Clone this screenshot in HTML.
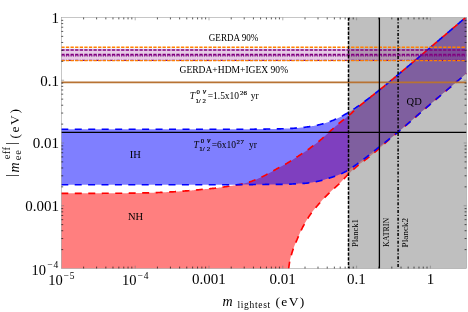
<!DOCTYPE html>
<html><head><meta charset="utf-8"><style>
html,body{margin:0;padding:0;background:#fff;}
svg{will-change:transform;display:block;font-family:"Liberation Serif",serif;}
</style></head><body>
<svg width="468" height="312" viewBox="0 0 468 312">
<rect width="468" height="312" fill="#fff"/>
<path d="M61.3,193.3 L61.8,193.3 L62.3,193.3 L62.8,193.3 L63.3,193.3 L63.8,193.3 L64.3,193.3 L64.8,193.3 L65.3,193.3 L65.8,193.3 L66.3,193.3 L66.8,193.3 L67.3,193.3 L67.8,193.3 L68.3,193.3 L68.8,193.3 L69.3,193.3 L69.8,193.3 L70.3,193.3 L70.8,193.3 L71.3,193.3 L71.8,193.3 L72.3,193.3 L72.8,193.3 L73.3,193.3 L73.8,193.3 L74.3,193.3 L74.8,193.3 L75.3,193.3 L75.8,193.3 L76.3,193.3 L76.8,193.3 L77.3,193.3 L77.8,193.3 L78.3,193.3 L78.8,193.3 L79.3,193.3 L79.8,193.3 L80.3,193.3 L80.8,193.3 L81.3,193.3 L81.8,193.3 L82.3,193.3 L82.8,193.3 L83.3,193.3 L83.8,193.3 L84.3,193.3 L84.8,193.3 L85.3,193.3 L85.8,193.3 L86.3,193.3 L86.8,193.3 L87.3,193.3 L87.8,193.3 L88.3,193.3 L88.8,193.3 L89.3,193.3 L89.8,193.3 L90.3,193.3 L90.8,193.3 L91.3,193.3 L91.8,193.3 L92.3,193.3 L92.8,193.3 L93.3,193.3 L93.8,193.3 L94.3,193.3 L94.8,193.3 L95.3,193.3 L95.8,193.3 L96.3,193.3 L96.8,193.3 L97.3,193.3 L97.8,193.3 L98.3,193.3 L98.8,193.3 L99.3,193.3 L99.8,193.3 L100.3,193.3 L100.8,193.3 L101.3,193.3 L101.8,193.3 L102.3,193.3 L102.8,193.2 L103.3,193.2 L103.8,193.2 L104.3,193.2 L104.8,193.2 L105.3,193.2 L105.8,193.2 L106.3,193.2 L106.8,193.2 L107.3,193.2 L107.8,193.2 L108.3,193.2 L108.8,193.2 L109.3,193.2 L109.8,193.2 L110.3,193.2 L110.8,193.2 L111.3,193.2 L111.8,193.2 L112.3,193.2 L112.8,193.2 L113.3,193.2 L113.8,193.2 L114.3,193.2 L114.8,193.2 L115.3,193.2 L115.8,193.2 L116.3,193.2 L116.8,193.2 L117.3,193.2 L117.8,193.2 L118.3,193.2 L118.8,193.2 L119.3,193.2 L119.8,193.2 L120.3,193.2 L120.8,193.2 L121.3,193.2 L121.8,193.2 L122.3,193.2 L122.8,193.2 L123.3,193.2 L123.8,193.2 L124.3,193.2 L124.8,193.2 L125.3,193.2 L125.8,193.2 L126.3,193.2 L126.8,193.2 L127.3,193.2 L127.8,193.1 L128.3,193.1 L128.8,193.1 L129.3,193.1 L129.8,193.1 L130.3,193.1 L130.8,193.1 L131.3,193.1 L131.8,193.1 L132.3,193.1 L132.8,193.1 L133.3,193.1 L133.8,193.1 L134.3,193.1 L134.8,193.1 L135.3,193.0 L135.8,193.0 L136.3,193.0 L136.8,193.0 L137.3,193.0 L137.8,193.0 L138.3,193.0 L138.8,193.0 L139.3,193.0 L139.8,193.0 L140.3,193.0 L140.8,192.9 L141.3,192.9 L141.8,192.9 L142.3,192.9 L142.8,192.9 L143.3,192.9 L143.8,192.9 L144.3,192.9 L144.8,192.9 L145.3,192.9 L145.8,192.8 L146.3,192.8 L146.8,192.8 L147.3,192.8 L147.8,192.8 L148.3,192.8 L148.8,192.8 L149.3,192.8 L149.8,192.8 L150.3,192.7 L150.8,192.7 L151.3,192.7 L151.8,192.7 L152.3,192.7 L152.8,192.7 L153.3,192.7 L153.8,192.7 L154.3,192.6 L154.8,192.6 L155.3,192.6 L155.8,192.6 L156.3,192.6 L156.8,192.6 L157.3,192.6 L157.8,192.5 L158.3,192.5 L158.8,192.5 L159.3,192.5 L159.8,192.5 L160.3,192.4 L160.8,192.4 L161.3,192.4 L161.8,192.4 L162.3,192.4 L162.8,192.3 L163.3,192.3 L163.8,192.3 L164.3,192.3 L164.8,192.2 L165.3,192.2 L165.8,192.2 L166.3,192.2 L166.8,192.1 L167.3,192.1 L167.8,192.1 L168.3,192.0 L168.8,192.0 L169.3,192.0 L169.8,192.0 L170.3,191.9 L170.8,191.9 L171.3,191.9 L171.8,191.9 L172.3,191.8 L172.8,191.8 L173.3,191.8 L173.8,191.7 L174.3,191.7 L174.8,191.7 L175.3,191.6 L175.8,191.6 L176.3,191.6 L176.8,191.6 L177.3,191.5 L177.8,191.5 L178.3,191.5 L178.8,191.4 L179.3,191.4 L179.8,191.3 L180.3,191.3 L180.8,191.3 L181.3,191.2 L181.8,191.2 L182.3,191.2 L182.8,191.1 L183.3,191.1 L183.8,191.1 L184.3,191.0 L184.8,191.0 L185.3,190.9 L185.8,190.9 L186.3,190.9 L186.8,190.8 L187.3,190.8 L187.8,190.7 L188.3,190.7 L188.8,190.7 L189.3,190.6 L189.8,190.6 L190.3,190.5 L190.8,190.5 L191.3,190.4 L191.8,190.4 L192.3,190.3 L192.8,190.3 L193.3,190.2 L193.8,190.2 L194.3,190.1 L194.8,190.1 L195.3,190.0 L195.8,190.0 L196.3,190.0 L196.8,189.9 L197.3,189.9 L197.8,189.8 L198.3,189.8 L198.8,189.7 L199.3,189.7 L199.8,189.6 L200.3,189.6 L200.8,189.5 L201.3,189.5 L201.8,189.4 L202.3,189.4 L202.8,189.3 L203.3,189.3 L203.8,189.2 L204.3,189.2 L204.8,189.2 L205.3,189.1 L205.8,189.1 L206.3,189.0 L206.8,189.0 L207.3,188.9 L207.8,188.9 L208.3,188.8 L208.8,188.8 L209.3,188.7 L209.8,188.7 L210.3,188.6 L210.8,188.6 L211.3,188.5 L211.8,188.5 L212.3,188.4 L212.8,188.4 L213.3,188.3 L213.8,188.3 L214.3,188.2 L214.8,188.2 L215.3,188.1 L215.8,188.1 L216.3,188.0 L216.8,187.9 L217.3,187.9 L217.8,187.8 L218.3,187.7 L218.8,187.7 L219.3,187.6 L219.8,187.5 L220.3,187.5 L220.8,187.4 L221.3,187.3 L221.8,187.2 L222.3,187.2 L222.8,187.1 L223.3,187.0 L223.8,187.0 L224.3,186.9 L224.8,186.8 L225.3,186.7 L225.8,186.7 L226.3,186.6 L226.8,186.5 L227.3,186.4 L227.8,186.4 L228.3,186.3 L228.8,186.2 L229.3,186.2 L229.8,186.1 L230.3,186.0 L230.8,186.0 L231.3,185.9 L231.8,185.8 L232.3,185.7 L232.8,185.7 L233.3,185.6 L233.8,185.5 L234.3,185.4 L234.8,185.4 L235.3,185.3 L235.8,185.2 L236.3,185.1 L236.8,185.0 L237.3,184.9 L237.8,184.8 L238.3,184.7 L238.8,184.7 L239.3,184.6 L239.8,184.5 L240.3,184.4 L240.8,184.2 L241.3,184.1 L241.8,184.0 L242.3,183.9 L242.8,183.8 L243.3,183.7 L243.8,183.6 L244.3,183.4 L244.8,183.3 L245.3,183.2 L245.8,183.1 L246.3,182.9 L246.8,182.8 L247.3,182.7 L247.8,182.5 L248.3,182.4 L248.8,182.2 L249.3,182.1 L249.8,181.9 L250.3,181.8 L250.8,181.6 L251.3,181.4 L251.8,181.2 L252.3,181.0 L252.8,180.8 L253.3,180.6 L253.8,180.4 L254.3,180.2 L254.8,180.0 L255.3,179.8 L255.8,179.6 L256.3,179.4 L256.8,179.2 L257.3,179.0 L257.8,178.7 L258.3,178.5 L258.8,178.3 L259.3,178.1 L259.8,177.9 L260.3,177.6 L260.8,177.4 L261.3,177.2 L261.8,176.9 L262.3,176.7 L262.8,176.4 L263.3,176.2 L263.8,175.9 L264.3,175.7 L264.8,175.4 L265.3,175.2 L265.8,174.9 L266.3,174.7 L266.8,174.4 L267.3,174.1 L267.8,173.9 L268.3,173.6 L268.8,173.3 L269.3,173.1 L269.8,172.8 L270.3,172.5 L270.8,172.2 L271.3,172.0 L271.8,171.7 L272.3,171.4 L272.8,171.1 L273.3,170.8 L273.8,170.5 L274.3,170.3 L274.8,170.0 L275.3,169.7 L275.8,169.4 L276.3,169.1 L276.8,168.8 L277.3,168.5 L277.8,168.3 L278.3,168.0 L278.8,167.7 L279.3,167.4 L279.8,167.2 L280.3,166.9 L280.8,166.6 L281.3,166.4 L281.8,166.1 L282.3,165.9 L282.8,165.6 L283.3,165.3 L283.8,165.1 L284.3,164.8 L284.8,164.5 L285.3,164.3 L285.8,164.0 L286.3,163.7 L286.8,163.4 L287.3,163.1 L287.8,162.8 L288.3,162.5 L288.8,162.2 L289.3,161.9 L289.8,161.6 L290.3,161.3 L290.8,161.0 L291.3,160.7 L291.8,160.3 L292.3,160.0 L292.8,159.7 L293.3,159.3 L293.8,159.0 L294.3,158.7 L294.8,158.3 L295.3,158.0 L295.8,157.7 L296.3,157.4 L296.8,157.0 L297.3,156.7 L297.8,156.4 L298.3,156.1 L298.8,155.7 L299.3,155.4 L299.8,155.1 L300.3,154.8 L300.8,154.4 L301.3,154.1 L301.8,153.8 L302.3,153.5 L302.8,153.2 L303.3,152.8 L303.8,152.5 L304.3,152.2 L304.8,151.8 L305.3,151.5 L305.8,151.2 L306.3,150.8 L306.8,150.5 L307.3,150.1 L307.8,149.8 L308.3,149.4 L308.8,149.0 L309.3,148.7 L309.8,148.3 L310.3,147.9 L310.8,147.5 L311.3,147.1 L311.8,146.8 L312.3,146.4 L312.8,146.0 L313.3,145.6 L313.8,145.2 L314.3,144.8 L314.8,144.4 L315.3,144.1 L315.8,143.7 L316.3,143.3 L316.8,142.9 L317.3,142.5 L317.8,142.2 L318.3,141.8 L318.8,141.4 L319.3,141.0 L319.8,140.6 L320.3,140.1 L320.8,139.7 L321.3,139.3 L321.8,138.9 L322.3,138.4 L322.8,138.0 L323.3,137.5 L323.8,137.1 L324.3,136.6 L324.8,136.1 L325.3,135.7 L325.8,135.2 L326.3,134.8 L326.8,134.3 L327.3,133.8 L327.8,133.4 L328.3,132.9 L328.8,132.5 L329.3,132.0 L329.8,131.6 L330.3,131.1 L330.8,130.7 L331.3,130.2 L331.8,129.7 L332.3,129.3 L332.8,128.8 L333.3,128.4 L333.8,127.9 L334.3,127.5 L334.8,127.0 L335.3,126.6 L335.8,126.1 L336.3,125.7 L336.8,125.2 L337.3,124.8 L337.8,124.4 L338.3,123.9 L338.8,123.5 L339.3,123.1 L339.8,122.7 L340.3,122.3 L340.8,121.9 L341.3,121.5 L341.8,121.1 L342.3,120.7 L342.8,120.3 L343.3,119.9 L343.8,119.5 L344.3,119.2 L344.8,118.8 L345.3,118.4 L345.8,118.0 L346.3,117.6 L346.8,117.2 L347.3,116.8 L347.8,116.4 L348.3,116.0 L348.8,115.5 L349.3,115.1 L349.8,114.7 L350.3,114.2 L350.8,113.8 L351.3,113.3 L351.8,112.9 L352.3,112.4 L352.8,111.9 L353.3,111.5 L353.8,111.0 L354.3,110.5 L354.8,110.1 L355.3,109.6 L355.8,109.1 L356.3,108.7 L356.8,108.2 L357.3,107.8 L357.8,107.4 L358.3,106.9 L358.8,106.5 L359.3,106.1 L359.8,105.7 L360.3,105.3 L360.8,104.9 L361.3,104.5 L361.8,104.1 L362.3,103.7 L362.8,103.3 L363.3,102.9 L363.8,102.5 L364.3,102.1 L364.8,101.7 L365.3,101.3 L365.8,100.9 L366.3,100.5 L366.8,100.1 L367.3,99.7 L367.8,99.3 L368.3,98.9 L368.8,98.5 L369.3,98.1 L369.8,97.7 L370.3,97.3 L370.8,96.8 L371.3,96.4 L371.8,96.0 L372.3,95.6 L372.8,95.2 L373.3,94.9 L373.8,94.5 L374.3,94.1 L374.8,93.7 L375.3,93.3 L375.8,92.9 L376.3,92.5 L376.8,92.1 L377.3,91.7 L377.8,91.3 L378.3,90.9 L378.8,90.5 L379.3,90.1 L379.8,89.7 L380.3,89.3 L380.8,88.9 L381.3,88.5 L381.8,88.1 L382.3,87.7 L382.8,87.3 L383.3,86.9 L383.8,86.5 L384.3,86.1 L384.8,85.6 L385.3,85.2 L385.8,84.8 L386.3,84.4 L386.8,84.0 L387.3,83.6 L387.8,83.2 L388.3,82.8 L388.8,82.4 L389.3,82.0 L389.8,81.5 L390.3,81.1 L390.8,80.7 L391.3,80.3 L391.8,79.9 L392.3,79.5 L392.8,79.1 L393.3,78.6 L393.8,78.2 L394.3,77.8 L394.8,77.4 L395.3,77.0 L395.8,76.6 L396.3,76.2 L396.8,75.7 L397.3,75.3 L397.8,74.9 L398.3,74.5 L398.8,74.1 L399.3,73.7 L399.8,73.2 L400.3,72.8 L400.8,72.4 L401.3,72.0 L401.8,71.6 L402.3,71.1 L402.8,70.7 L403.3,70.3 L403.8,69.9 L404.3,69.5 L404.8,69.0 L405.3,68.6 L405.8,68.2 L406.3,67.8 L406.8,67.4 L407.3,66.9 L407.8,66.5 L408.3,66.1 L408.8,65.7 L409.3,65.3 L409.8,64.8 L410.3,64.4 L410.8,64.0 L411.3,63.6 L411.8,63.1 L412.3,62.7 L412.8,62.3 L413.3,61.9 L413.8,61.5 L414.3,61.0 L414.8,60.6 L415.3,60.2 L415.8,59.8 L416.3,59.3 L416.8,58.9 L417.3,58.5 L417.8,58.1 L418.3,57.7 L418.8,57.2 L419.3,56.8 L419.8,56.4 L420.3,56.0 L420.8,55.5 L421.3,55.1 L421.8,54.7 L422.3,54.3 L422.8,53.8 L423.3,53.4 L423.8,53.0 L424.3,52.6 L424.8,52.2 L425.3,51.7 L425.8,51.3 L426.3,50.9 L426.8,50.5 L427.3,50.0 L427.8,49.6 L428.3,49.2 L428.8,48.8 L429.3,48.3 L429.8,47.9 L430.3,47.5 L430.8,47.1 L431.3,46.6 L431.8,46.2 L432.3,45.8 L432.8,45.4 L433.3,44.9 L433.8,44.5 L434.3,44.1 L434.8,43.7 L435.3,43.2 L435.8,42.8 L436.3,42.4 L436.8,42.0 L437.3,41.6 L437.8,41.1 L438.3,40.7 L438.8,40.3 L439.3,39.9 L439.8,39.4 L440.3,39.0 L440.8,38.6 L441.3,38.2 L441.8,37.7 L442.3,37.3 L442.8,36.9 L443.3,36.5 L443.8,36.0 L444.3,35.6 L444.8,35.2 L445.3,34.8 L445.8,34.3 L446.3,33.9 L446.8,33.5 L447.3,33.1 L447.8,32.6 L448.3,32.2 L448.8,31.8 L449.3,31.4 L449.8,30.9 L450.3,30.5 L450.8,30.1 L451.3,29.7 L451.8,29.2 L452.3,28.8 L452.8,28.4 L453.3,28.0 L453.8,27.5 L454.3,27.1 L454.8,26.7 L455.3,26.3 L455.8,25.8 L456.3,25.4 L456.8,25.0 L457.3,24.6 L457.8,24.1 L458.3,23.7 L458.8,23.3 L459.3,22.9 L459.8,22.4 L460.3,22.0 L460.8,21.6 L461.3,21.2 L461.8,20.7 L462.3,20.3 L462.8,19.9 L463.3,19.5 L463.8,19.0 L464.3,18.6 L464.8,18.2 L465.3,17.8 L465.8,17.5 L466.3,17.5 L466.5,17.5 L466.5,73.4 L466.3,73.6 L465.8,74.0 L465.3,74.4 L464.8,74.8 L464.3,75.3 L463.8,75.7 L463.3,76.1 L462.8,76.5 L462.3,77.0 L461.8,77.4 L461.3,77.8 L460.8,78.3 L460.3,78.7 L459.8,79.1 L459.3,79.5 L458.8,80.0 L458.3,80.4 L457.8,80.8 L457.3,81.2 L456.8,81.7 L456.3,82.1 L455.8,82.5 L455.3,82.9 L454.8,83.4 L454.3,83.8 L453.8,84.2 L453.3,84.6 L452.8,85.1 L452.3,85.5 L451.8,85.9 L451.3,86.3 L450.8,86.8 L450.3,87.2 L449.8,87.6 L449.3,88.0 L448.8,88.5 L448.3,88.9 L447.8,89.3 L447.3,89.7 L446.8,90.2 L446.3,90.6 L445.8,91.0 L445.3,91.4 L444.8,91.9 L444.3,92.3 L443.8,92.7 L443.3,93.1 L442.8,93.6 L442.3,94.0 L441.8,94.4 L441.3,94.8 L440.8,95.3 L440.3,95.7 L439.8,96.1 L439.3,96.5 L438.8,97.0 L438.3,97.4 L437.8,97.8 L437.3,98.2 L436.8,98.7 L436.3,99.1 L435.8,99.5 L435.3,99.9 L434.8,100.4 L434.3,100.8 L433.8,101.2 L433.3,101.7 L432.8,102.1 L432.3,102.5 L431.8,102.9 L431.3,103.4 L430.8,103.8 L430.3,104.2 L429.8,104.6 L429.3,105.1 L428.8,105.5 L428.3,105.9 L427.8,106.4 L427.3,106.8 L426.8,107.2 L426.3,107.6 L425.8,108.1 L425.3,108.5 L424.8,108.9 L424.3,109.4 L423.8,109.8 L423.3,110.2 L422.8,110.7 L422.3,111.1 L421.8,111.5 L421.3,112.0 L420.8,112.4 L420.3,112.8 L419.8,113.3 L419.3,113.7 L418.8,114.1 L418.3,114.6 L417.8,115.0 L417.3,115.4 L416.8,115.9 L416.3,116.3 L415.8,116.8 L415.3,117.2 L414.8,117.6 L414.3,118.1 L413.8,118.5 L413.3,118.9 L412.8,119.4 L412.3,119.8 L411.8,120.3 L411.3,120.7 L410.8,121.1 L410.3,121.6 L409.8,122.0 L409.3,122.4 L408.8,122.9 L408.3,123.3 L407.8,123.7 L407.3,124.2 L406.8,124.6 L406.3,125.0 L405.8,125.5 L405.3,125.9 L404.8,126.3 L404.3,126.8 L403.8,127.2 L403.3,127.6 L402.8,128.0 L402.3,128.5 L401.8,128.9 L401.3,129.3 L400.8,129.7 L400.3,130.1 L399.8,130.6 L399.3,131.0 L398.8,131.4 L398.3,131.9 L397.9,132.2 L397.5,132.6 L397.1,132.9 L396.7,133.2 L396.3,133.5 L395.9,133.9 L395.5,134.2 L395.1,134.5 L394.7,134.9 L394.3,135.2 L393.9,135.6 L393.5,135.9 L393.1,136.2 L392.7,136.6 L392.3,136.9 L391.9,137.2 L391.5,137.6 L391.1,137.9 L390.7,138.3 L390.3,138.6 L389.9,139.0 L389.5,139.3 L389.1,139.6 L388.7,140.0 L388.3,140.3 L387.9,140.7 L387.5,141.0 L387.1,141.4 L386.7,141.7 L386.3,142.1 L385.9,142.5 L385.5,142.8 L385.1,143.2 L384.7,143.5 L384.3,143.9 L383.9,144.3 L383.5,144.6 L383.1,145.0 L382.7,145.4 L382.3,145.7 L381.9,146.1 L381.5,146.5 L381.1,146.8 L380.7,147.2 L380.3,147.5 L379.9,147.9 L379.5,148.3 L379.1,148.6 L378.7,149.0 L378.3,149.3 L377.9,149.6 L377.5,150.0 L377.1,150.3 L376.7,150.7 L376.3,151.0 L375.9,151.4 L375.5,151.7 L375.1,152.0 L374.7,152.4 L374.3,152.7 L373.9,153.1 L373.5,153.4 L373.1,153.7 L372.7,154.1 L372.3,154.4 L371.9,154.7 L371.5,155.0 L371.1,155.4 L370.7,155.7 L370.3,156.0 L369.9,156.3 L369.5,156.7 L369.1,157.0 L368.7,157.3 L368.3,157.6 L367.9,157.9 L367.5,158.2 L367.1,158.5 L366.7,158.8 L366.3,159.1 L365.9,159.4 L365.5,159.7 L365.1,160.0 L364.7,160.3 L364.3,160.6 L363.9,160.9 L363.5,161.2 L363.1,161.5 L362.7,161.8 L362.3,162.1 L361.9,162.4 L361.5,162.7 L361.1,163.0 L360.7,163.3 L360.3,163.6 L359.9,163.9 L359.5,164.2 L359.1,164.5 L358.7,164.8 L358.3,165.2 L357.9,165.5 L357.5,165.8 L357.1,166.2 L356.7,166.5 L356.3,166.9 L355.9,167.2 L355.5,167.6 L355.1,167.9 L354.7,168.3 L354.3,168.6 L353.9,169.0 L353.5,169.4 L353.1,169.7 L352.7,170.1 L352.3,170.5 L351.9,170.8 L351.5,171.2 L351.1,171.6 L350.7,172.0 L350.3,172.4 L349.9,172.7 L349.5,173.1 L349.1,173.5 L348.7,173.9 L348.3,174.3 L347.9,174.7 L347.5,175.1 L347.1,175.5 L346.7,175.9 L346.3,176.3 L345.9,176.8 L345.5,177.2 L345.1,177.6 L344.7,178.0 L344.3,178.5 L343.9,178.9 L343.5,179.3 L343.1,179.7 L342.7,180.2 L342.3,180.6 L341.9,181.0 L341.5,181.4 L341.1,181.9 L340.7,182.3 L340.3,182.7 L339.9,183.1 L339.5,183.5 L339.1,183.9 L338.7,184.3 L338.3,184.6 L337.9,185.0 L337.5,185.4 L337.1,185.7 L336.7,186.1 L336.3,186.5 L335.9,186.8 L335.5,187.2 L335.1,187.5 L334.7,187.9 L334.3,188.3 L333.9,188.6 L333.5,189.0 L333.1,189.3 L332.7,189.7 L332.3,190.1 L331.9,190.4 L331.5,190.8 L331.1,191.2 L330.7,191.6 L330.3,192.0 L329.9,192.4 L329.5,192.7 L329.1,193.1 L328.7,193.5 L328.3,193.9 L327.9,194.3 L327.5,194.7 L327.1,195.1 L326.7,195.5 L326.3,195.9 L325.9,196.3 L325.5,196.7 L325.1,197.1 L324.7,197.5 L324.3,197.9 L323.9,198.4 L323.5,198.8 L323.1,199.2 L322.7,199.6 L322.3,200.1 L321.9,200.5 L321.5,201.0 L321.1,201.4 L320.7,201.8 L320.3,202.3 L319.9,202.8 L319.5,203.2 L319.1,203.7 L318.7,204.1 L318.3,204.6 L317.9,205.1 L317.5,205.5 L317.1,206.0 L316.7,206.4 L316.3,206.9 L315.9,207.4 L315.5,207.8 L315.1,208.3 L314.7,208.8 L314.3,209.2 L313.9,209.7 L313.5,210.2 L313.1,210.7 L312.7,211.2 L312.3,211.7 L311.9,212.3 L311.5,212.8 L311.1,213.4 L310.7,213.9 L310.3,214.5 L309.9,215.1 L309.5,215.7 L309.1,216.3 L308.7,216.9 L308.3,217.5 L307.9,218.2 L307.5,218.8 L307.1,219.4 L306.7,220.1 L306.3,220.8 L305.9,221.4 L305.5,222.1 L305.1,222.8 L304.7,223.5 L304.3,224.3 L303.9,225.0 L303.5,225.7 L303.1,226.5 L302.7,227.2 L302.3,228.0 L301.9,228.8 L301.5,229.6 L301.1,230.4 L300.7,231.2 L300.3,232.1 L299.9,233.0 L299.5,233.9 L299.1,234.8 L298.7,235.7 L298.3,236.7 L297.9,237.6 L297.5,238.5 L297.1,239.5 L296.7,240.4 L296.3,241.3 L295.9,242.2 L295.5,243.2 L295.1,244.2 L294.7,245.1 L294.3,246.2 L293.9,247.2 L293.5,248.3 L293.1,249.4 L292.7,250.6 L292.3,251.8 L291.9,253.1 L291.5,254.4 L291.1,255.8 L290.7,257.2 L290.3,258.7 L289.9,260.5 L289.5,262.6 L289.1,265.3 L288.7,268.5 L289.0,268.5 L61.3,268.5Z" fill="#ff0000" fill-opacity="0.5"/>
<path d="M61.3,129.2 L61.8,129.2 L62.3,129.2 L62.8,129.2 L63.3,129.2 L63.8,129.2 L64.3,129.2 L64.8,129.2 L65.3,129.2 L65.8,129.2 L66.3,129.2 L66.8,129.2 L67.3,129.2 L67.8,129.2 L68.3,129.2 L68.8,129.2 L69.3,129.2 L69.8,129.2 L70.3,129.2 L70.8,129.2 L71.3,129.2 L71.8,129.2 L72.3,129.2 L72.8,129.2 L73.3,129.2 L73.8,129.2 L74.3,129.2 L74.8,129.2 L75.3,129.2 L75.8,129.2 L76.3,129.2 L76.8,129.2 L77.3,129.2 L77.8,129.2 L78.3,129.2 L78.8,129.2 L79.3,129.2 L79.8,129.2 L80.3,129.2 L80.8,129.2 L81.3,129.2 L81.8,129.2 L82.3,129.2 L82.8,129.2 L83.3,129.2 L83.8,129.2 L84.3,129.2 L84.8,129.2 L85.3,129.2 L85.8,129.2 L86.3,129.2 L86.8,129.2 L87.3,129.2 L87.8,129.2 L88.3,129.2 L88.8,129.2 L89.3,129.2 L89.8,129.2 L90.3,129.2 L90.8,129.2 L91.3,129.2 L91.8,129.2 L92.3,129.2 L92.8,129.2 L93.3,129.2 L93.8,129.2 L94.3,129.2 L94.8,129.2 L95.3,129.2 L95.8,129.2 L96.3,129.2 L96.8,129.2 L97.3,129.2 L97.8,129.2 L98.3,129.2 L98.8,129.2 L99.3,129.2 L99.8,129.2 L100.3,129.2 L100.8,129.2 L101.3,129.2 L101.8,129.2 L102.3,129.2 L102.8,129.2 L103.3,129.2 L103.8,129.2 L104.3,129.2 L104.8,129.2 L105.3,129.2 L105.8,129.2 L106.3,129.2 L106.8,129.2 L107.3,129.2 L107.8,129.2 L108.3,129.2 L108.8,129.2 L109.3,129.2 L109.8,129.2 L110.3,129.2 L110.8,129.2 L111.3,129.2 L111.8,129.2 L112.3,129.2 L112.8,129.2 L113.3,129.2 L113.8,129.2 L114.3,129.2 L114.8,129.2 L115.3,129.2 L115.8,129.2 L116.3,129.2 L116.8,129.2 L117.3,129.2 L117.8,129.2 L118.3,129.2 L118.8,129.2 L119.3,129.2 L119.8,129.2 L120.3,129.2 L120.8,129.2 L121.3,129.2 L121.8,129.2 L122.3,129.2 L122.8,129.2 L123.3,129.2 L123.8,129.2 L124.3,129.2 L124.8,129.2 L125.3,129.2 L125.8,129.2 L126.3,129.2 L126.8,129.2 L127.3,129.2 L127.8,129.2 L128.3,129.2 L128.8,129.2 L129.3,129.2 L129.8,129.2 L130.3,129.2 L130.8,129.2 L131.3,129.2 L131.8,129.2 L132.3,129.2 L132.8,129.2 L133.3,129.2 L133.8,129.2 L134.3,129.2 L134.8,129.2 L135.3,129.2 L135.8,129.2 L136.3,129.2 L136.8,129.2 L137.3,129.2 L137.8,129.2 L138.3,129.2 L138.8,129.2 L139.3,129.2 L139.8,129.2 L140.3,129.2 L140.8,129.2 L141.3,129.2 L141.8,129.2 L142.3,129.2 L142.8,129.2 L143.3,129.2 L143.8,129.2 L144.3,129.2 L144.8,129.2 L145.3,129.2 L145.8,129.2 L146.3,129.2 L146.8,129.2 L147.3,129.2 L147.8,129.2 L148.3,129.2 L148.8,129.2 L149.3,129.2 L149.8,129.2 L150.3,129.2 L150.8,129.2 L151.3,129.2 L151.8,129.2 L152.3,129.2 L152.8,129.2 L153.3,129.2 L153.8,129.2 L154.3,129.2 L154.8,129.2 L155.3,129.2 L155.8,129.2 L156.3,129.2 L156.8,129.2 L157.3,129.2 L157.8,129.2 L158.3,129.2 L158.8,129.2 L159.3,129.2 L159.8,129.2 L160.3,129.2 L160.8,129.2 L161.3,129.2 L161.8,129.2 L162.3,129.2 L162.8,129.2 L163.3,129.2 L163.8,129.2 L164.3,129.2 L164.8,129.2 L165.3,129.2 L165.8,129.2 L166.3,129.2 L166.8,129.2 L167.3,129.2 L167.8,129.2 L168.3,129.2 L168.8,129.2 L169.3,129.2 L169.8,129.2 L170.3,129.2 L170.8,129.2 L171.3,129.2 L171.8,129.2 L172.3,129.2 L172.8,129.2 L173.3,129.2 L173.8,129.2 L174.3,129.2 L174.8,129.2 L175.3,129.2 L175.8,129.2 L176.3,129.2 L176.8,129.2 L177.3,129.2 L177.8,129.2 L178.3,129.2 L178.8,129.2 L179.3,129.2 L179.8,129.2 L180.3,129.2 L180.8,129.2 L181.3,129.2 L181.8,129.2 L182.3,129.2 L182.8,129.2 L183.3,129.2 L183.8,129.2 L184.3,129.2 L184.8,129.2 L185.3,129.2 L185.8,129.2 L186.3,129.2 L186.8,129.2 L187.3,129.2 L187.8,129.2 L188.3,129.2 L188.8,129.2 L189.3,129.2 L189.8,129.2 L190.3,129.2 L190.8,129.2 L191.3,129.2 L191.8,129.2 L192.3,129.2 L192.8,129.2 L193.3,129.2 L193.8,129.2 L194.3,129.2 L194.8,129.2 L195.3,129.2 L195.8,129.2 L196.3,129.2 L196.8,129.2 L197.3,129.2 L197.8,129.2 L198.3,129.2 L198.8,129.2 L199.3,129.2 L199.8,129.2 L200.3,129.2 L200.8,129.2 L201.3,129.2 L201.8,129.2 L202.3,129.2 L202.8,129.2 L203.3,129.2 L203.8,129.2 L204.3,129.2 L204.8,129.2 L205.3,129.2 L205.8,129.2 L206.3,129.2 L206.8,129.2 L207.3,129.2 L207.8,129.2 L208.3,129.2 L208.8,129.2 L209.3,129.2 L209.8,129.2 L210.3,129.2 L210.8,129.2 L211.3,129.2 L211.8,129.2 L212.3,129.2 L212.8,129.2 L213.3,129.2 L213.8,129.2 L214.3,129.2 L214.8,129.2 L215.3,129.2 L215.8,129.2 L216.3,129.2 L216.8,129.2 L217.3,129.2 L217.8,129.2 L218.3,129.2 L218.8,129.2 L219.3,129.2 L219.8,129.2 L220.3,129.2 L220.8,129.2 L221.3,129.2 L221.8,129.2 L222.3,129.2 L222.8,129.2 L223.3,129.2 L223.8,129.2 L224.3,129.2 L224.8,129.2 L225.3,129.2 L225.8,129.2 L226.3,129.2 L226.8,129.2 L227.3,129.2 L227.8,129.2 L228.3,129.2 L228.8,129.2 L229.3,129.2 L229.8,129.2 L230.3,129.2 L230.8,129.2 L231.3,129.2 L231.8,129.2 L232.3,129.2 L232.8,129.2 L233.3,129.2 L233.8,129.2 L234.3,129.2 L234.8,129.2 L235.3,129.2 L235.8,129.2 L236.3,129.2 L236.8,129.2 L237.3,129.2 L237.8,129.2 L238.3,129.2 L238.8,129.2 L239.3,129.2 L239.8,129.2 L240.3,129.2 L240.8,129.2 L241.3,129.2 L241.8,129.2 L242.3,129.2 L242.8,129.2 L243.3,129.2 L243.8,129.2 L244.3,129.2 L244.8,129.2 L245.3,129.2 L245.8,129.2 L246.3,129.2 L246.8,129.2 L247.3,129.2 L247.8,129.2 L248.3,129.2 L248.8,129.2 L249.3,129.2 L249.8,129.2 L250.3,129.2 L250.8,129.2 L251.3,129.2 L251.8,129.2 L252.3,129.2 L252.8,129.2 L253.3,129.2 L253.8,129.2 L254.3,129.2 L254.8,129.1 L255.3,129.1 L255.8,129.1 L256.3,129.1 L256.8,129.1 L257.3,129.1 L257.8,129.1 L258.3,129.1 L258.8,129.1 L259.3,129.1 L259.8,129.1 L260.3,129.1 L260.8,129.1 L261.3,129.1 L261.8,129.1 L262.3,129.1 L262.8,129.1 L263.3,129.1 L263.8,129.1 L264.3,129.1 L264.8,129.1 L265.3,129.1 L265.8,129.1 L266.3,129.0 L266.8,129.0 L267.3,129.0 L267.8,129.0 L268.3,129.0 L268.8,129.0 L269.3,129.0 L269.8,129.0 L270.3,129.0 L270.8,129.0 L271.3,129.0 L271.8,129.0 L272.3,129.0 L272.8,129.0 L273.3,128.9 L273.8,128.9 L274.3,128.9 L274.8,128.9 L275.3,128.9 L275.8,128.9 L276.3,128.9 L276.8,128.9 L277.3,128.9 L277.8,128.8 L278.3,128.8 L278.8,128.8 L279.3,128.8 L279.8,128.8 L280.3,128.8 L280.8,128.8 L281.3,128.7 L281.8,128.7 L282.3,128.7 L282.8,128.7 L283.3,128.7 L283.8,128.7 L284.3,128.7 L284.8,128.6 L285.3,128.6 L285.8,128.6 L286.3,128.6 L286.8,128.6 L287.3,128.5 L287.8,128.5 L288.3,128.5 L288.8,128.5 L289.3,128.4 L289.8,128.4 L290.3,128.4 L290.8,128.4 L291.3,128.3 L291.8,128.3 L292.3,128.3 L292.8,128.3 L293.3,128.2 L293.8,128.2 L294.3,128.2 L294.8,128.1 L295.3,128.1 L295.8,128.1 L296.3,128.0 L296.8,128.0 L297.3,127.9 L297.8,127.9 L298.3,127.9 L298.8,127.8 L299.3,127.8 L299.8,127.7 L300.3,127.7 L300.8,127.6 L301.3,127.6 L301.8,127.5 L302.3,127.5 L302.8,127.4 L303.3,127.4 L303.8,127.3 L304.3,127.3 L304.8,127.2 L305.3,127.2 L305.8,127.1 L306.3,127.0 L306.8,127.0 L307.3,126.9 L307.8,126.8 L308.3,126.8 L308.8,126.7 L309.3,126.6 L309.8,126.6 L310.3,126.5 L310.8,126.4 L311.3,126.3 L311.8,126.2 L312.3,126.1 L312.8,126.1 L313.3,126.0 L313.8,125.9 L314.3,125.8 L314.8,125.7 L315.3,125.6 L315.8,125.5 L316.3,125.4 L316.8,125.3 L317.3,125.2 L317.8,125.1 L318.3,124.9 L318.8,124.8 L319.3,124.7 L319.8,124.6 L320.3,124.5 L320.8,124.3 L321.3,124.2 L321.8,124.1 L322.3,123.9 L322.8,123.8 L323.3,123.7 L323.8,123.5 L324.3,123.4 L324.8,123.2 L325.3,123.1 L325.8,122.9 L326.3,122.7 L326.8,122.6 L327.3,122.4 L327.8,122.2 L328.3,122.1 L328.8,121.9 L329.3,121.7 L329.8,121.5 L330.3,121.4 L330.8,121.2 L331.3,121.0 L331.8,120.8 L332.3,120.6 L332.8,120.4 L333.3,120.2 L333.8,120.0 L334.3,119.8 L334.8,119.5 L335.3,119.3 L335.8,119.1 L336.3,118.9 L336.8,118.6 L337.3,118.4 L337.8,118.2 L338.3,117.9 L338.8,117.7 L339.3,117.5 L339.8,117.2 L340.3,117.0 L340.8,116.7 L341.3,116.4 L341.8,116.2 L342.3,115.9 L342.8,115.7 L343.3,115.4 L343.8,115.1 L344.3,114.8 L344.8,114.6 L345.3,114.3 L345.8,114.0 L346.3,113.7 L346.8,113.4 L347.3,113.1 L347.8,112.8 L348.3,112.5 L348.8,112.2 L349.3,111.9 L349.8,111.6 L350.3,111.3 L350.8,111.0 L351.3,110.7 L351.8,110.4 L352.3,110.0 L352.8,109.7 L353.3,109.4 L353.8,109.1 L354.3,108.7 L354.8,108.4 L355.3,108.1 L355.8,107.7 L356.3,107.4 L356.8,107.0 L357.3,106.7 L357.8,106.4 L358.3,106.0 L358.8,105.7 L359.3,105.3 L359.8,105.0 L360.3,104.6 L360.8,104.2 L361.3,103.9 L361.8,103.5 L362.3,103.2 L362.8,102.8 L363.3,102.4 L363.8,102.1 L364.3,101.7 L364.8,101.3 L365.3,101.0 L365.8,100.6 L366.3,100.2 L366.8,99.8 L367.3,99.5 L367.8,99.1 L368.3,98.7 L368.8,98.3 L369.3,97.9 L369.8,97.6 L370.3,97.2 L370.8,96.8 L371.3,96.4 L371.8,96.0 L372.3,95.6 L372.8,95.2 L373.3,94.9 L373.8,94.5 L374.3,94.1 L374.8,93.7 L375.3,93.3 L375.8,92.9 L376.3,92.5 L376.8,92.1 L377.3,91.7 L377.8,91.3 L378.3,90.9 L378.8,90.5 L379.3,90.1 L379.8,89.7 L380.3,89.3 L380.8,88.9 L381.3,88.5 L381.8,88.1 L382.3,87.7 L382.8,87.3 L383.3,86.9 L383.8,86.5 L384.3,86.1 L384.8,85.6 L385.3,85.2 L385.8,84.8 L386.3,84.4 L386.8,84.0 L387.3,83.6 L387.8,83.2 L388.3,82.8 L388.8,82.4 L389.3,82.0 L389.8,81.5 L390.3,81.1 L390.8,80.7 L391.3,80.3 L391.8,79.9 L392.3,79.5 L392.8,79.1 L393.3,78.6 L393.8,78.2 L394.3,77.8 L394.8,77.4 L395.3,77.0 L395.8,76.6 L396.3,76.2 L396.8,75.7 L397.3,75.3 L397.8,74.9 L398.3,74.5 L398.8,74.1 L399.3,73.7 L399.8,73.2 L400.3,72.8 L400.8,72.4 L401.3,72.0 L401.8,71.6 L402.3,71.1 L402.8,70.7 L403.3,70.3 L403.8,69.9 L404.3,69.5 L404.8,69.0 L405.3,68.6 L405.8,68.2 L406.3,67.8 L406.8,67.4 L407.3,66.9 L407.8,66.5 L408.3,66.1 L408.8,65.7 L409.3,65.3 L409.8,64.8 L410.3,64.4 L410.8,64.0 L411.3,63.6 L411.8,63.1 L412.3,62.7 L412.8,62.3 L413.3,61.9 L413.8,61.5 L414.3,61.0 L414.8,60.6 L415.3,60.2 L415.8,59.8 L416.3,59.3 L416.8,58.9 L417.3,58.5 L417.8,58.1 L418.3,57.7 L418.8,57.2 L419.3,56.8 L419.8,56.4 L420.3,56.0 L420.8,55.5 L421.3,55.1 L421.8,54.7 L422.3,54.3 L422.8,53.8 L423.3,53.4 L423.8,53.0 L424.3,52.6 L424.8,52.2 L425.3,51.7 L425.8,51.3 L426.3,50.9 L426.8,50.5 L427.3,50.0 L427.8,49.6 L428.3,49.2 L428.8,48.8 L429.3,48.3 L429.8,47.9 L430.3,47.5 L430.8,47.1 L431.3,46.6 L431.8,46.2 L432.3,45.8 L432.8,45.4 L433.3,44.9 L433.8,44.5 L434.3,44.1 L434.8,43.7 L435.3,43.2 L435.8,42.8 L436.3,42.4 L436.8,42.0 L437.3,41.6 L437.8,41.1 L438.3,40.7 L438.8,40.3 L439.3,39.9 L439.8,39.4 L440.3,39.0 L440.8,38.6 L441.3,38.2 L441.8,37.7 L442.3,37.3 L442.8,36.9 L443.3,36.5 L443.8,36.0 L444.3,35.6 L444.8,35.2 L445.3,34.8 L445.8,34.3 L446.3,33.9 L446.8,33.5 L447.3,33.1 L447.8,32.6 L448.3,32.2 L448.8,31.8 L449.3,31.4 L449.8,30.9 L450.3,30.5 L450.8,30.1 L451.3,29.7 L451.8,29.2 L452.3,28.8 L452.8,28.4 L453.3,28.0 L453.8,27.5 L454.3,27.1 L454.8,26.7 L455.3,26.3 L455.8,25.8 L456.3,25.4 L456.8,25.0 L457.3,24.6 L457.8,24.1 L458.3,23.7 L458.8,23.3 L459.3,22.9 L459.8,22.4 L460.3,22.0 L460.8,21.6 L461.3,21.2 L461.8,20.7 L462.3,20.3 L462.8,19.9 L463.3,19.5 L463.8,19.0 L464.3,18.6 L464.8,18.2 L465.3,17.8 L465.8,17.5 L466.3,17.5 L466.5,17.5 L466.5,73.4 L466.3,73.6 L465.8,74.0 L465.3,74.4 L464.8,74.8 L464.3,75.3 L463.8,75.7 L463.3,76.1 L462.8,76.5 L462.3,77.0 L461.8,77.4 L461.3,77.8 L460.8,78.3 L460.3,78.7 L459.8,79.1 L459.3,79.5 L458.8,80.0 L458.3,80.4 L457.8,80.8 L457.3,81.2 L456.8,81.7 L456.3,82.1 L455.8,82.5 L455.3,82.9 L454.8,83.4 L454.3,83.8 L453.8,84.2 L453.3,84.6 L452.8,85.1 L452.3,85.5 L451.8,85.9 L451.3,86.3 L450.8,86.8 L450.3,87.2 L449.8,87.6 L449.3,88.0 L448.8,88.5 L448.3,88.9 L447.8,89.3 L447.3,89.7 L446.8,90.2 L446.3,90.6 L445.8,91.0 L445.3,91.4 L444.8,91.9 L444.3,92.3 L443.8,92.7 L443.3,93.1 L442.8,93.6 L442.3,94.0 L441.8,94.4 L441.3,94.8 L440.8,95.3 L440.3,95.7 L439.8,96.1 L439.3,96.5 L438.8,97.0 L438.3,97.4 L437.8,97.8 L437.3,98.2 L436.8,98.7 L436.3,99.1 L435.8,99.5 L435.3,99.9 L434.8,100.4 L434.3,100.8 L433.8,101.2 L433.3,101.7 L432.8,102.1 L432.3,102.5 L431.8,102.9 L431.3,103.4 L430.8,103.8 L430.3,104.2 L429.8,104.6 L429.3,105.1 L428.8,105.5 L428.3,105.9 L427.8,106.4 L427.3,106.8 L426.8,107.2 L426.3,107.6 L425.8,108.1 L425.3,108.5 L424.8,108.9 L424.3,109.4 L423.8,109.8 L423.3,110.2 L422.8,110.7 L422.3,111.1 L421.8,111.5 L421.3,112.0 L420.8,112.4 L420.3,112.8 L419.8,113.3 L419.3,113.7 L418.8,114.1 L418.3,114.6 L417.8,115.0 L417.3,115.4 L416.8,115.9 L416.3,116.3 L415.8,116.8 L415.3,117.2 L414.8,117.6 L414.3,118.1 L413.8,118.5 L413.3,118.9 L412.8,119.4 L412.3,119.8 L411.8,120.3 L411.3,120.7 L410.8,121.1 L410.3,121.6 L409.8,122.0 L409.3,122.4 L408.8,122.9 L408.3,123.3 L407.8,123.7 L407.3,124.2 L406.8,124.6 L406.3,125.0 L405.8,125.5 L405.3,125.9 L404.8,126.3 L404.3,126.8 L403.8,127.2 L403.3,127.6 L402.8,128.0 L402.3,128.5 L401.8,128.9 L401.3,129.3 L400.8,129.7 L400.3,130.1 L399.8,130.6 L399.3,131.0 L398.8,131.4 L398.3,131.8 L397.8,132.2 L397.3,132.6 L396.8,133.0 L396.3,133.4 L395.8,133.8 L395.3,134.3 L394.8,134.7 L394.3,135.1 L393.8,135.5 L393.3,135.9 L392.8,136.3 L392.3,136.7 L391.8,137.1 L391.3,137.5 L390.8,137.8 L390.3,138.2 L389.8,138.6 L389.3,139.0 L388.8,139.4 L388.3,139.8 L387.8,140.2 L387.3,140.6 L386.8,141.0 L386.3,141.4 L385.8,141.8 L385.3,142.2 L384.8,142.6 L384.3,143.0 L383.8,143.3 L383.3,143.7 L382.8,144.1 L382.3,144.5 L381.8,144.9 L381.3,145.3 L380.8,145.7 L380.3,146.1 L379.8,146.5 L379.3,146.9 L378.8,147.3 L378.3,147.7 L377.8,148.1 L377.3,148.5 L376.8,148.9 L376.3,149.3 L375.8,149.7 L375.3,150.1 L374.8,150.5 L374.3,150.9 L373.8,151.3 L373.3,151.7 L372.8,152.1 L372.3,152.6 L371.8,153.0 L371.3,153.4 L370.8,153.8 L370.3,154.1 L369.8,154.5 L369.3,154.9 L368.8,155.3 L368.3,155.7 L367.8,156.1 L367.3,156.5 L366.8,156.9 L366.3,157.2 L365.8,157.6 L365.3,158.0 L364.8,158.4 L364.3,158.7 L363.8,159.1 L363.3,159.5 L362.8,159.9 L362.3,160.2 L361.8,160.6 L361.3,161.0 L360.8,161.3 L360.3,161.7 L359.8,162.1 L359.3,162.4 L358.8,162.8 L358.3,163.1 L357.8,163.5 L357.3,163.9 L356.8,164.2 L356.3,164.6 L355.8,165.0 L355.3,165.3 L354.8,165.7 L354.3,166.0 L353.8,166.4 L353.3,166.8 L352.8,167.1 L352.3,167.5 L351.8,167.8 L351.3,168.1 L350.8,168.5 L350.3,168.8 L349.8,169.1 L349.3,169.4 L348.8,169.7 L348.3,170.0 L347.8,170.3 L347.3,170.6 L346.8,170.9 L346.3,171.2 L345.8,171.5 L345.3,171.7 L344.8,172.0 L344.3,172.3 L343.8,172.5 L343.3,172.8 L342.8,173.0 L342.3,173.3 L341.8,173.5 L341.3,173.7 L340.8,174.0 L340.3,174.2 L339.8,174.4 L339.3,174.6 L338.8,174.8 L338.3,175.0 L337.8,175.2 L337.3,175.4 L336.8,175.6 L336.3,175.7 L335.8,175.9 L335.3,176.1 L334.8,176.3 L334.3,176.5 L333.8,176.6 L333.3,176.8 L332.8,177.0 L332.3,177.1 L331.8,177.3 L331.3,177.5 L330.8,177.6 L330.3,177.8 L329.8,177.9 L329.3,178.1 L328.8,178.2 L328.3,178.4 L327.8,178.6 L327.3,178.7 L326.8,178.9 L326.3,179.0 L325.8,179.2 L325.3,179.3 L324.8,179.5 L324.3,179.7 L323.8,179.8 L323.3,179.9 L322.8,180.1 L322.3,180.2 L321.8,180.4 L321.3,180.5 L320.8,180.6 L320.3,180.7 L319.8,180.8 L319.3,181.0 L318.8,181.1 L318.3,181.2 L317.8,181.3 L317.3,181.4 L316.8,181.5 L316.3,181.6 L315.8,181.7 L315.3,181.8 L314.8,181.9 L314.3,182.0 L313.8,182.1 L313.3,182.2 L312.8,182.3 L312.3,182.4 L311.8,182.5 L311.3,182.5 L310.8,182.6 L310.3,182.7 L309.8,182.8 L309.3,182.8 L308.8,182.9 L308.3,183.0 L307.8,183.0 L307.3,183.1 L306.8,183.1 L306.3,183.2 L305.8,183.2 L305.3,183.2 L304.8,183.3 L304.3,183.3 L303.8,183.3 L303.3,183.4 L302.8,183.4 L302.3,183.4 L301.8,183.4 L301.3,183.5 L300.8,183.5 L300.3,183.5 L299.8,183.6 L299.3,183.6 L298.8,183.6 L298.3,183.6 L297.8,183.7 L297.3,183.7 L296.8,183.7 L296.3,183.7 L295.8,183.8 L295.3,183.8 L294.8,183.8 L294.3,183.9 L293.8,183.9 L293.3,183.9 L292.8,184.0 L292.3,184.0 L291.8,184.0 L291.3,184.1 L290.8,184.1 L290.3,184.1 L289.8,184.1 L289.3,184.2 L288.8,184.2 L288.3,184.2 L287.8,184.2 L287.3,184.2 L286.8,184.2 L286.3,184.2 L285.8,184.2 L285.3,184.2 L284.8,184.3 L284.3,184.3 L283.8,184.3 L283.3,184.3 L282.8,184.3 L282.3,184.3 L281.8,184.3 L281.3,184.3 L280.8,184.3 L280.3,184.3 L279.8,184.3 L279.3,184.3 L278.8,184.3 L278.3,184.3 L277.8,184.3 L277.3,184.3 L276.8,184.4 L276.3,184.4 L275.8,184.4 L275.3,184.4 L274.8,184.4 L274.3,184.4 L273.8,184.4 L273.3,184.4 L272.8,184.4 L272.3,184.4 L271.8,184.4 L271.3,184.4 L270.8,184.4 L270.3,184.4 L269.8,184.4 L269.3,184.4 L268.8,184.4 L268.3,184.4 L267.8,184.4 L267.3,184.4 L266.8,184.4 L266.3,184.4 L265.8,184.4 L265.3,184.4 L264.8,184.5 L264.3,184.5 L263.8,184.5 L263.3,184.5 L262.8,184.5 L262.3,184.5 L261.8,184.5 L261.3,184.5 L260.8,184.5 L260.3,184.5 L259.8,184.5 L259.3,184.5 L258.8,184.5 L258.3,184.5 L257.8,184.5 L257.3,184.5 L256.8,184.5 L256.3,184.5 L255.8,184.5 L255.3,184.5 L254.8,184.5 L254.3,184.5 L253.8,184.5 L253.3,184.5 L252.8,184.6 L252.3,184.6 L251.8,184.6 L251.3,184.6 L250.8,184.6 L250.3,184.6 L249.8,184.6 L249.3,184.6 L248.8,184.6 L248.3,184.6 L247.8,184.6 L247.3,184.6 L246.8,184.6 L246.3,184.6 L245.8,184.6 L245.3,184.6 L244.8,184.6 L244.3,184.6 L243.8,184.6 L243.3,184.6 L242.8,184.6 L242.3,184.6 L241.8,184.6 L241.3,184.6 L240.8,184.6 L240.3,184.6 L239.8,184.6 L239.3,184.6 L238.8,184.6 L238.3,184.6 L237.8,184.6 L237.3,184.7 L236.8,184.7 L236.3,184.7 L235.8,184.7 L235.3,184.7 L234.8,184.7 L234.3,184.7 L233.8,184.7 L233.3,184.7 L232.8,184.7 L232.3,184.7 L231.8,184.7 L231.3,184.7 L230.8,184.7 L230.3,184.7 L229.8,184.7 L229.3,184.7 L228.8,184.7 L228.3,184.7 L227.8,184.7 L227.3,184.7 L226.8,184.7 L226.3,184.7 L225.8,184.7 L225.3,184.7 L224.8,184.7 L224.3,184.7 L223.8,184.7 L223.3,184.7 L222.8,184.7 L222.3,184.7 L221.8,184.7 L221.3,184.7 L220.8,184.7 L220.3,184.7 L219.8,184.7 L219.3,184.7 L218.8,184.7 L218.3,184.7 L217.8,184.7 L217.3,184.7 L216.8,184.7 L216.3,184.7 L215.8,184.7 L215.3,184.7 L214.8,184.7 L214.3,184.7 L213.8,184.7 L213.3,184.7 L212.8,184.7 L212.3,184.7 L211.8,184.7 L211.3,184.7 L210.8,184.7 L210.3,184.7 L209.8,184.7 L209.3,184.7 L208.8,184.7 L208.3,184.7 L207.8,184.7 L207.3,184.7 L206.8,184.7 L206.3,184.7 L205.8,184.7 L205.3,184.7 L204.8,184.7 L204.3,184.7 L203.8,184.7 L203.3,184.7 L202.8,184.7 L202.3,184.7 L201.8,184.7 L201.3,184.7 L200.8,184.7 L200.3,184.7 L199.8,184.7 L199.3,184.7 L198.8,184.7 L198.3,184.7 L197.8,184.7 L197.3,184.7 L196.8,184.7 L196.3,184.7 L195.8,184.7 L195.3,184.7 L194.8,184.7 L194.3,184.7 L193.8,184.7 L193.3,184.7 L192.8,184.7 L192.3,184.7 L191.8,184.7 L191.3,184.7 L190.8,184.7 L190.3,184.7 L189.8,184.7 L189.3,184.7 L188.8,184.7 L188.3,184.7 L187.8,184.7 L187.3,184.7 L186.8,184.7 L186.3,184.7 L185.8,184.7 L185.3,184.7 L184.8,184.7 L184.3,184.7 L183.8,184.7 L183.3,184.7 L182.8,184.7 L182.3,184.7 L181.8,184.7 L181.3,184.7 L180.8,184.7 L180.3,184.7 L179.8,184.7 L179.3,184.7 L178.8,184.7 L178.3,184.7 L177.8,184.7 L177.3,184.7 L176.8,184.7 L176.3,184.7 L175.8,184.7 L175.3,184.7 L174.8,184.7 L174.3,184.7 L173.8,184.7 L173.3,184.7 L172.8,184.7 L172.3,184.7 L171.8,184.7 L171.3,184.7 L170.8,184.7 L170.3,184.7 L169.8,184.7 L169.3,184.7 L168.8,184.7 L168.3,184.7 L167.8,184.7 L167.3,184.7 L166.8,184.7 L166.3,184.7 L165.8,184.7 L165.3,184.7 L164.8,184.7 L164.3,184.7 L163.8,184.7 L163.3,184.7 L162.8,184.7 L162.3,184.7 L161.8,184.7 L161.3,184.7 L160.8,184.7 L160.3,184.7 L159.8,184.7 L159.3,184.7 L158.8,184.7 L158.3,184.7 L157.8,184.7 L157.3,184.7 L156.8,184.7 L156.3,184.7 L155.8,184.7 L155.3,184.7 L154.8,184.7 L154.3,184.7 L153.8,184.7 L153.3,184.7 L152.8,184.7 L152.3,184.7 L151.8,184.7 L151.3,184.7 L150.8,184.7 L150.3,184.7 L149.8,184.7 L149.3,184.7 L148.8,184.7 L148.3,184.7 L147.8,184.7 L147.3,184.7 L146.8,184.7 L146.3,184.7 L145.8,184.7 L145.3,184.7 L144.8,184.7 L144.3,184.7 L143.8,184.7 L143.3,184.7 L142.8,184.7 L142.3,184.7 L141.8,184.7 L141.3,184.7 L140.8,184.7 L140.3,184.7 L139.8,184.7 L139.3,184.7 L138.8,184.7 L138.3,184.7 L137.8,184.7 L137.3,184.7 L136.8,184.7 L136.3,184.7 L135.8,184.7 L135.3,184.7 L134.8,184.7 L134.3,184.7 L133.8,184.7 L133.3,184.7 L132.8,184.7 L132.3,184.7 L131.8,184.7 L131.3,184.7 L130.8,184.7 L130.3,184.7 L129.8,184.7 L129.3,184.7 L128.8,184.7 L128.3,184.7 L127.8,184.7 L127.3,184.7 L126.8,184.7 L126.3,184.7 L125.8,184.7 L125.3,184.7 L124.8,184.7 L124.3,184.7 L123.8,184.7 L123.3,184.7 L122.8,184.7 L122.3,184.7 L121.8,184.7 L121.3,184.7 L120.8,184.7 L120.3,184.7 L119.8,184.7 L119.3,184.7 L118.8,184.7 L118.3,184.7 L117.8,184.7 L117.3,184.7 L116.8,184.7 L116.3,184.7 L115.8,184.7 L115.3,184.7 L114.8,184.7 L114.3,184.7 L113.8,184.7 L113.3,184.7 L112.8,184.7 L112.3,184.7 L111.8,184.7 L111.3,184.7 L110.8,184.7 L110.3,184.7 L109.8,184.7 L109.3,184.7 L108.8,184.7 L108.3,184.7 L107.8,184.7 L107.3,184.7 L106.8,184.7 L106.3,184.7 L105.8,184.7 L105.3,184.7 L104.8,184.7 L104.3,184.7 L103.8,184.7 L103.3,184.7 L102.8,184.7 L102.3,184.7 L101.8,184.7 L101.3,184.7 L100.8,184.7 L100.3,184.7 L99.8,184.7 L99.3,184.7 L98.8,184.7 L98.3,184.7 L97.8,184.7 L97.3,184.7 L96.8,184.7 L96.3,184.7 L95.8,184.7 L95.3,184.7 L94.8,184.7 L94.3,184.7 L93.8,184.7 L93.3,184.7 L92.8,184.7 L92.3,184.7 L91.8,184.7 L91.3,184.7 L90.8,184.7 L90.3,184.7 L89.8,184.7 L89.3,184.7 L88.8,184.7 L88.3,184.7 L87.8,184.7 L87.3,184.7 L86.8,184.7 L86.3,184.7 L85.8,184.7 L85.3,184.7 L84.8,184.7 L84.3,184.7 L83.8,184.7 L83.3,184.7 L82.8,184.7 L82.3,184.7 L81.8,184.7 L81.3,184.7 L80.8,184.7 L80.3,184.7 L79.8,184.7 L79.3,184.7 L78.8,184.7 L78.3,184.7 L77.8,184.7 L77.3,184.7 L76.8,184.7 L76.3,184.7 L75.8,184.7 L75.3,184.7 L74.8,184.7 L74.3,184.7 L73.8,184.7 L73.3,184.7 L72.8,184.7 L72.3,184.7 L71.8,184.7 L71.3,184.7 L70.8,184.7 L70.3,184.7 L69.8,184.7 L69.3,184.7 L68.8,184.7 L68.3,184.7 L67.8,184.7 L67.3,184.7 L66.8,184.7 L66.3,184.7 L65.8,184.7 L65.3,184.7 L64.8,184.7 L64.3,184.7 L63.8,184.7 L63.3,184.7 L62.8,184.7 L62.3,184.7 L61.8,184.7 L61.3,184.7Z" fill="#0000ff" fill-opacity="0.5"/>
<rect x="348.5" y="17.5" width="118.0" height="251.0" fill="#808080" fill-opacity="0.5"/>
<path d="M61.3,193.3 L61.8,193.3 L62.3,193.3 L62.8,193.3 L63.3,193.3 L63.8,193.3 L64.3,193.3 L64.8,193.3 L65.3,193.3 L65.8,193.3 L66.3,193.3 L66.8,193.3 L67.3,193.3 L67.8,193.3 L68.3,193.3 L68.8,193.3 L69.3,193.3 L69.8,193.3 L70.3,193.3 L70.8,193.3 L71.3,193.3 L71.8,193.3 L72.3,193.3 L72.8,193.3 L73.3,193.3 L73.8,193.3 L74.3,193.3 L74.8,193.3 L75.3,193.3 L75.8,193.3 L76.3,193.3 L76.8,193.3 L77.3,193.3 L77.8,193.3 L78.3,193.3 L78.8,193.3 L79.3,193.3 L79.8,193.3 L80.3,193.3 L80.8,193.3 L81.3,193.3 L81.8,193.3 L82.3,193.3 L82.8,193.3 L83.3,193.3 L83.8,193.3 L84.3,193.3 L84.8,193.3 L85.3,193.3 L85.8,193.3 L86.3,193.3 L86.8,193.3 L87.3,193.3 L87.8,193.3 L88.3,193.3 L88.8,193.3 L89.3,193.3 L89.8,193.3 L90.3,193.3 L90.8,193.3 L91.3,193.3 L91.8,193.3 L92.3,193.3 L92.8,193.3 L93.3,193.3 L93.8,193.3 L94.3,193.3 L94.8,193.3 L95.3,193.3 L95.8,193.3 L96.3,193.3 L96.8,193.3 L97.3,193.3 L97.8,193.3 L98.3,193.3 L98.8,193.3 L99.3,193.3 L99.8,193.3 L100.3,193.3 L100.8,193.3 L101.3,193.3 L101.8,193.3 L102.3,193.3 L102.8,193.2 L103.3,193.2 L103.8,193.2 L104.3,193.2 L104.8,193.2 L105.3,193.2 L105.8,193.2 L106.3,193.2 L106.8,193.2 L107.3,193.2 L107.8,193.2 L108.3,193.2 L108.8,193.2 L109.3,193.2 L109.8,193.2 L110.3,193.2 L110.8,193.2 L111.3,193.2 L111.8,193.2 L112.3,193.2 L112.8,193.2 L113.3,193.2 L113.8,193.2 L114.3,193.2 L114.8,193.2 L115.3,193.2 L115.8,193.2 L116.3,193.2 L116.8,193.2 L117.3,193.2 L117.8,193.2 L118.3,193.2 L118.8,193.2 L119.3,193.2 L119.8,193.2 L120.3,193.2 L120.8,193.2 L121.3,193.2 L121.8,193.2 L122.3,193.2 L122.8,193.2 L123.3,193.2 L123.8,193.2 L124.3,193.2 L124.8,193.2 L125.3,193.2 L125.8,193.2 L126.3,193.2 L126.8,193.2 L127.3,193.2 L127.8,193.1 L128.3,193.1 L128.8,193.1 L129.3,193.1 L129.8,193.1 L130.3,193.1 L130.8,193.1 L131.3,193.1 L131.8,193.1 L132.3,193.1 L132.8,193.1 L133.3,193.1 L133.8,193.1 L134.3,193.1 L134.8,193.1 L135.3,193.0 L135.8,193.0 L136.3,193.0 L136.8,193.0 L137.3,193.0 L137.8,193.0 L138.3,193.0 L138.8,193.0 L139.3,193.0 L139.8,193.0 L140.3,193.0 L140.8,192.9 L141.3,192.9 L141.8,192.9 L142.3,192.9 L142.8,192.9 L143.3,192.9 L143.8,192.9 L144.3,192.9 L144.8,192.9 L145.3,192.9 L145.8,192.8 L146.3,192.8 L146.8,192.8 L147.3,192.8 L147.8,192.8 L148.3,192.8 L148.8,192.8 L149.3,192.8 L149.8,192.8 L150.3,192.7 L150.8,192.7 L151.3,192.7 L151.8,192.7 L152.3,192.7 L152.8,192.7 L153.3,192.7 L153.8,192.7 L154.3,192.6 L154.8,192.6 L155.3,192.6 L155.8,192.6 L156.3,192.6 L156.8,192.6 L157.3,192.6 L157.8,192.5 L158.3,192.5 L158.8,192.5 L159.3,192.5 L159.8,192.5 L160.3,192.4 L160.8,192.4 L161.3,192.4 L161.8,192.4 L162.3,192.4 L162.8,192.3 L163.3,192.3 L163.8,192.3 L164.3,192.3 L164.8,192.2 L165.3,192.2 L165.8,192.2 L166.3,192.2 L166.8,192.1 L167.3,192.1 L167.8,192.1 L168.3,192.0 L168.8,192.0 L169.3,192.0 L169.8,192.0 L170.3,191.9 L170.8,191.9 L171.3,191.9 L171.8,191.9 L172.3,191.8 L172.8,191.8 L173.3,191.8 L173.8,191.7 L174.3,191.7 L174.8,191.7 L175.3,191.6 L175.8,191.6 L176.3,191.6 L176.8,191.6 L177.3,191.5 L177.8,191.5 L178.3,191.5 L178.8,191.4 L179.3,191.4 L179.8,191.3 L180.3,191.3 L180.8,191.3 L181.3,191.2 L181.8,191.2 L182.3,191.2 L182.8,191.1 L183.3,191.1 L183.8,191.1 L184.3,191.0 L184.8,191.0 L185.3,190.9 L185.8,190.9 L186.3,190.9 L186.8,190.8 L187.3,190.8 L187.8,190.7 L188.3,190.7 L188.8,190.7 L189.3,190.6 L189.8,190.6 L190.3,190.5 L190.8,190.5 L191.3,190.4 L191.8,190.4 L192.3,190.3 L192.8,190.3 L193.3,190.2 L193.8,190.2 L194.3,190.1 L194.8,190.1 L195.3,190.0 L195.8,190.0 L196.3,190.0 L196.8,189.9 L197.3,189.9 L197.8,189.8 L198.3,189.8 L198.8,189.7 L199.3,189.7 L199.8,189.6 L200.3,189.6 L200.8,189.5 L201.3,189.5 L201.8,189.4 L202.3,189.4 L202.8,189.3 L203.3,189.3 L203.8,189.2 L204.3,189.2 L204.8,189.2 L205.3,189.1 L205.8,189.1 L206.3,189.0 L206.8,189.0 L207.3,188.9 L207.8,188.9 L208.3,188.8 L208.8,188.8 L209.3,188.7 L209.8,188.7 L210.3,188.6 L210.8,188.6 L211.3,188.5 L211.8,188.5 L212.3,188.4 L212.8,188.4 L213.3,188.3 L213.8,188.3 L214.3,188.2 L214.8,188.2 L215.3,188.1 L215.8,188.1 L216.3,188.0 L216.8,187.9 L217.3,187.9 L217.8,187.8 L218.3,187.7 L218.8,187.7 L219.3,187.6 L219.8,187.5 L220.3,187.5 L220.8,187.4 L221.3,187.3 L221.8,187.2 L222.3,187.2 L222.8,187.1 L223.3,187.0 L223.8,187.0 L224.3,186.9 L224.8,186.8 L225.3,186.7 L225.8,186.7 L226.3,186.6 L226.8,186.5 L227.3,186.4 L227.8,186.4 L228.3,186.3 L228.8,186.2 L229.3,186.2 L229.8,186.1 L230.3,186.0 L230.8,186.0 L231.3,185.9 L231.8,185.8 L232.3,185.7 L232.8,185.7 L233.3,185.6 L233.8,185.5 L234.3,185.4 L234.8,185.4 L235.3,185.3 L235.8,185.2 L236.3,185.1 L236.8,185.0 L237.3,184.9 L237.8,184.8 L238.3,184.7 L238.8,184.7 L239.3,184.6 L239.8,184.5 L240.3,184.4 L240.8,184.2 L241.3,184.1 L241.8,184.0 L242.3,183.9 L242.8,183.8 L243.3,183.7 L243.8,183.6 L244.3,183.4 L244.8,183.3 L245.3,183.2 L245.8,183.1 L246.3,182.9 L246.8,182.8 L247.3,182.7 L247.8,182.5 L248.3,182.4 L248.8,182.2 L249.3,182.1 L249.8,181.9 L250.3,181.8 L250.8,181.6 L251.3,181.4 L251.8,181.2 L252.3,181.0 L252.8,180.8 L253.3,180.6 L253.8,180.4 L254.3,180.2 L254.8,180.0 L255.3,179.8 L255.8,179.6 L256.3,179.4 L256.8,179.2 L257.3,179.0 L257.8,178.7 L258.3,178.5 L258.8,178.3 L259.3,178.1 L259.8,177.9 L260.3,177.6 L260.8,177.4 L261.3,177.2 L261.8,176.9 L262.3,176.7 L262.8,176.4 L263.3,176.2 L263.8,175.9 L264.3,175.7 L264.8,175.4 L265.3,175.2 L265.8,174.9 L266.3,174.7 L266.8,174.4 L267.3,174.1 L267.8,173.9 L268.3,173.6 L268.8,173.3 L269.3,173.1 L269.8,172.8 L270.3,172.5 L270.8,172.2 L271.3,172.0 L271.8,171.7 L272.3,171.4 L272.8,171.1 L273.3,170.8 L273.8,170.5 L274.3,170.3 L274.8,170.0 L275.3,169.7 L275.8,169.4 L276.3,169.1 L276.8,168.8 L277.3,168.5 L277.8,168.3 L278.3,168.0 L278.8,167.7 L279.3,167.4 L279.8,167.2 L280.3,166.9 L280.8,166.6 L281.3,166.4 L281.8,166.1 L282.3,165.9 L282.8,165.6 L283.3,165.3 L283.8,165.1 L284.3,164.8 L284.8,164.5 L285.3,164.3 L285.8,164.0 L286.3,163.7 L286.8,163.4 L287.3,163.1 L287.8,162.8 L288.3,162.5 L288.8,162.2 L289.3,161.9 L289.8,161.6 L290.3,161.3 L290.8,161.0 L291.3,160.7 L291.8,160.3 L292.3,160.0 L292.8,159.7 L293.3,159.3 L293.8,159.0 L294.3,158.7 L294.8,158.3 L295.3,158.0 L295.8,157.7 L296.3,157.4 L296.8,157.0 L297.3,156.7 L297.8,156.4 L298.3,156.1 L298.8,155.7 L299.3,155.4 L299.8,155.1 L300.3,154.8 L300.8,154.4 L301.3,154.1 L301.8,153.8 L302.3,153.5 L302.8,153.2 L303.3,152.8 L303.8,152.5 L304.3,152.2 L304.8,151.8 L305.3,151.5 L305.8,151.2 L306.3,150.8 L306.8,150.5 L307.3,150.1 L307.8,149.8 L308.3,149.4 L308.8,149.0 L309.3,148.7 L309.8,148.3 L310.3,147.9 L310.8,147.5 L311.3,147.1 L311.8,146.8 L312.3,146.4 L312.8,146.0 L313.3,145.6 L313.8,145.2 L314.3,144.8 L314.8,144.4 L315.3,144.1 L315.8,143.7 L316.3,143.3 L316.8,142.9 L317.3,142.5 L317.8,142.2 L318.3,141.8 L318.8,141.4 L319.3,141.0 L319.8,140.6 L320.3,140.1 L320.8,139.7 L321.3,139.3 L321.8,138.9 L322.3,138.4 L322.8,138.0 L323.3,137.5 L323.8,137.1 L324.3,136.6 L324.8,136.1 L325.3,135.7 L325.8,135.2 L326.3,134.8 L326.8,134.3 L327.3,133.8 L327.8,133.4 L328.3,132.9 L328.8,132.5 L329.3,132.0 L329.8,131.6 L330.3,131.1 L330.8,130.7 L331.3,130.2 L331.8,129.7 L332.3,129.3 L332.8,128.8 L333.3,128.4 L333.8,127.9 L334.3,127.5 L334.8,127.0 L335.3,126.6 L335.8,126.1 L336.3,125.7 L336.8,125.2 L337.3,124.8 L337.8,124.4 L338.3,123.9 L338.8,123.5 L339.3,123.1 L339.8,122.7 L340.3,122.3 L340.8,121.9 L341.3,121.5 L341.8,121.1 L342.3,120.7 L342.8,120.3 L343.3,119.9 L343.8,119.5 L344.3,119.2 L344.8,118.8 L345.3,118.4 L345.8,118.0 L346.3,117.6 L346.8,117.2 L347.3,116.8 L347.8,116.4 L348.3,116.0 L348.8,115.5 L349.3,115.1 L349.8,114.7 L350.3,114.2 L350.8,113.8 L351.3,113.3 L351.8,112.9 L352.3,112.4 L352.8,111.9 L353.3,111.5 L353.8,111.0 L354.3,110.5 L354.8,110.1 L355.3,109.6 L355.8,109.1 L356.3,108.7 L356.8,108.2 L357.3,107.8 L357.8,107.4 L358.3,106.9 L358.8,106.5 L359.3,106.1 L359.8,105.7 L360.3,105.3 L360.8,104.9 L361.3,104.5 L361.8,104.1 L362.3,103.7 L362.8,103.3 L363.3,102.9 L363.8,102.5 L364.3,102.1 L364.8,101.7 L365.3,101.3 L365.8,100.9 L366.3,100.5 L366.8,100.1 L367.3,99.7 L367.8,99.3 L368.3,98.9 L368.8,98.5 L369.3,98.1 L369.8,97.7 L370.3,97.3 L370.8,96.8 L371.3,96.4 L371.8,96.0 L372.3,95.6 L372.8,95.2 L373.3,94.9 L373.8,94.5 L374.3,94.1 L374.8,93.7 L375.3,93.3 L375.8,92.9 L376.3,92.5 L376.8,92.1 L377.3,91.7 L377.8,91.3 L378.3,90.9 L378.8,90.5 L379.3,90.1 L379.8,89.7 L380.3,89.3 L380.8,88.9 L381.3,88.5 L381.8,88.1 L382.3,87.7 L382.8,87.3 L383.3,86.9 L383.8,86.5 L384.3,86.1 L384.8,85.6 L385.3,85.2 L385.8,84.8 L386.3,84.4 L386.8,84.0 L387.3,83.6 L387.8,83.2 L388.3,82.8 L388.8,82.4 L389.3,82.0 L389.8,81.5 L390.3,81.1 L390.8,80.7 L391.3,80.3 L391.8,79.9 L392.3,79.5 L392.8,79.1 L393.3,78.6 L393.8,78.2 L394.3,77.8 L394.8,77.4 L395.3,77.0 L395.8,76.6 L396.3,76.2 L396.8,75.7 L397.3,75.3 L397.8,74.9 L398.3,74.5 L398.8,74.1 L399.3,73.7 L399.8,73.2 L400.3,72.8 L400.8,72.4 L401.3,72.0 L401.8,71.6 L402.3,71.1 L402.8,70.7 L403.3,70.3 L403.8,69.9 L404.3,69.5 L404.8,69.0 L405.3,68.6 L405.8,68.2 L406.3,67.8 L406.8,67.4 L407.3,66.9 L407.8,66.5 L408.3,66.1 L408.8,65.7 L409.3,65.3 L409.8,64.8 L410.3,64.4 L410.8,64.0 L411.3,63.6 L411.8,63.1 L412.3,62.7 L412.8,62.3 L413.3,61.9 L413.8,61.5 L414.3,61.0 L414.8,60.6 L415.3,60.2 L415.8,59.8 L416.3,59.3 L416.8,58.9 L417.3,58.5 L417.8,58.1 L418.3,57.7 L418.8,57.2 L419.3,56.8 L419.8,56.4 L420.3,56.0 L420.8,55.5 L421.3,55.1 L421.8,54.7 L422.3,54.3 L422.8,53.8 L423.3,53.4 L423.8,53.0 L424.3,52.6 L424.8,52.2 L425.3,51.7 L425.8,51.3 L426.3,50.9 L426.8,50.5 L427.3,50.0 L427.8,49.6 L428.3,49.2 L428.8,48.8 L429.3,48.3 L429.8,47.9 L430.3,47.5 L430.8,47.1 L431.3,46.6 L431.8,46.2 L432.3,45.8 L432.8,45.4 L433.3,44.9 L433.8,44.5 L434.3,44.1 L434.8,43.7 L435.3,43.2 L435.8,42.8 L436.3,42.4 L436.8,42.0 L437.3,41.6 L437.8,41.1 L438.3,40.7 L438.8,40.3 L439.3,39.9 L439.8,39.4 L440.3,39.0 L440.8,38.6 L441.3,38.2 L441.8,37.7 L442.3,37.3 L442.8,36.9 L443.3,36.5 L443.8,36.0 L444.3,35.6 L444.8,35.2 L445.3,34.8 L445.8,34.3 L446.3,33.9 L446.8,33.5 L447.3,33.1 L447.8,32.6 L448.3,32.2 L448.8,31.8 L449.3,31.4 L449.8,30.9 L450.3,30.5 L450.8,30.1 L451.3,29.7 L451.8,29.2 L452.3,28.8 L452.8,28.4 L453.3,28.0 L453.8,27.5 L454.3,27.1 L454.8,26.7 L455.3,26.3 L455.8,25.8 L456.3,25.4 L456.8,25.0 L457.3,24.6 L457.8,24.1 L458.3,23.7 L458.8,23.3 L459.3,22.9 L459.8,22.4 L460.3,22.0 L460.8,21.6 L461.3,21.2 L461.8,20.7 L462.3,20.3 L462.8,19.9 L463.3,19.5 L463.8,19.0 L464.3,18.6 L464.8,18.2 L465.3,17.8" fill="none" stroke="#f00" stroke-width="1.65" stroke-dasharray="7 6.486"/>
<path d="M288.7,268.5 L289.1,265.3 L289.5,262.6 L289.9,260.5 L290.3,258.7 L290.7,257.2 L291.1,255.8 L291.5,254.4 L291.9,253.1 L292.3,251.8 L292.7,250.6 L293.1,249.4 L293.5,248.3 L293.9,247.2 L294.3,246.2 L294.7,245.1 L295.1,244.2 L295.5,243.2 L295.9,242.2 L296.3,241.3 L296.7,240.4 L297.1,239.5 L297.5,238.5 L297.9,237.6 L298.3,236.7 L298.7,235.7 L299.1,234.8 L299.5,233.9 L299.9,233.0 L300.3,232.1 L300.7,231.2 L301.1,230.4 L301.5,229.6 L301.9,228.8 L302.3,228.0 L302.7,227.2 L303.1,226.5 L303.5,225.7 L303.9,225.0 L304.3,224.3 L304.7,223.5 L305.1,222.8 L305.5,222.1 L305.9,221.4 L306.3,220.8 L306.7,220.1 L307.1,219.4 L307.5,218.8 L307.9,218.2 L308.3,217.5 L308.7,216.9 L309.1,216.3 L309.5,215.7 L309.9,215.1 L310.3,214.5 L310.7,213.9 L311.1,213.4 L311.5,212.8 L311.9,212.3 L312.3,211.7 L312.7,211.2 L313.1,210.7 L313.5,210.2 L313.9,209.7 L314.3,209.2 L314.7,208.8 L315.1,208.3 L315.5,207.8 L315.9,207.4 L316.3,206.9 L316.7,206.4 L317.1,206.0 L317.5,205.5 L317.9,205.1 L318.3,204.6 L318.7,204.1 L319.1,203.7 L319.5,203.2 L319.9,202.8 L320.3,202.3 L320.7,201.8 L321.1,201.4 L321.5,201.0 L321.9,200.5 L322.3,200.1 L322.7,199.6 L323.1,199.2 L323.5,198.8 L323.9,198.4 L324.3,197.9 L324.7,197.5 L325.1,197.1 L325.5,196.7 L325.9,196.3 L326.3,195.9 L326.7,195.5 L327.1,195.1 L327.5,194.7 L327.9,194.3 L328.3,193.9 L328.7,193.5 L329.1,193.1 L329.5,192.7 L329.9,192.4 L330.3,192.0 L330.7,191.6 L331.1,191.2 L331.5,190.8 L331.9,190.4 L332.3,190.1 L332.7,189.7 L333.1,189.3 L333.5,189.0 L333.9,188.6 L334.3,188.3 L334.7,187.9 L335.1,187.5 L335.5,187.2 L335.9,186.8 L336.3,186.5 L336.7,186.1 L337.1,185.7 L337.5,185.4 L337.9,185.0 L338.3,184.6 L338.7,184.3 L339.1,183.9 L339.5,183.5 L339.9,183.1 L340.3,182.7 L340.7,182.3 L341.1,181.9 L341.5,181.4 L341.9,181.0 L342.3,180.6 L342.7,180.2 L343.1,179.7 L343.5,179.3 L343.9,178.9 L344.3,178.5 L344.7,178.0 L345.1,177.6 L345.5,177.2 L345.9,176.8 L346.3,176.3 L346.7,175.9 L347.1,175.5 L347.5,175.1 L347.9,174.7 L348.3,174.3 L348.7,173.9 L349.1,173.5 L349.5,173.1 L349.9,172.7 L350.3,172.4 L350.7,172.0 L351.1,171.6 L351.5,171.2 L351.9,170.8 L352.3,170.5 L352.7,170.1 L353.1,169.7 L353.5,169.4 L353.9,169.0 L354.3,168.6 L354.7,168.3 L355.1,167.9 L355.5,167.6 L355.9,167.2 L356.3,166.9 L356.7,166.5 L357.1,166.2 L357.5,165.8 L357.9,165.5 L358.3,165.2 L358.7,164.8 L359.1,164.5 L359.5,164.2 L359.9,163.9 L360.3,163.6 L360.7,163.3 L361.1,163.0 L361.5,162.7 L361.9,162.4 L362.3,162.1 L362.7,161.8 L363.1,161.5 L363.5,161.2 L363.9,160.9 L364.3,160.6 L364.7,160.3 L365.1,160.0 L365.5,159.7 L365.9,159.4 L366.3,159.1 L366.7,158.8 L367.1,158.5 L367.5,158.2 L367.9,157.9 L368.3,157.6 L368.7,157.3 L369.1,157.0 L369.5,156.7 L369.9,156.3 L370.3,156.0 L370.7,155.7 L371.1,155.4 L371.5,155.0 L371.9,154.7 L372.3,154.4 L372.7,154.1 L373.1,153.7 L373.5,153.4 L373.9,153.1 L374.3,152.7 L374.7,152.4 L375.1,152.0 L375.5,151.7 L375.9,151.4 L376.3,151.0 L376.7,150.7 L377.1,150.3 L377.5,150.0 L377.9,149.6 L378.3,149.3 L378.7,149.0 L379.1,148.6 L379.5,148.3 L379.9,147.9 L380.3,147.5 L380.7,147.2 L381.1,146.8 L381.5,146.5 L381.9,146.1 L382.3,145.7 L382.7,145.4 L383.1,145.0 L383.5,144.6 L383.9,144.3 L384.3,143.9 L384.7,143.5 L385.1,143.2 L385.5,142.8 L385.9,142.5 L386.3,142.1 L386.7,141.7 L387.1,141.4 L387.5,141.0 L387.9,140.7 L388.3,140.3 L388.7,140.0 L389.1,139.6 L389.5,139.3 L389.9,139.0 L390.3,138.6 L390.7,138.3 L391.1,137.9 L391.5,137.6 L391.9,137.2 L392.3,136.9 L392.7,136.6 L393.1,136.2 L393.5,135.9 L393.9,135.6 L394.3,135.2 L394.7,134.9 L395.1,134.5 L395.5,134.2 L395.9,133.9 L396.3,133.5 L396.7,133.2 L397.1,132.9 L397.5,132.6 L397.9,132.2 L398.3,131.9 L398.8,131.4 L399.3,131.0 L399.8,130.6 L400.3,130.1 L400.8,129.7 L401.3,129.3 L401.8,128.9 L402.3,128.5 L402.8,128.0 L403.3,127.6 L403.8,127.2 L404.3,126.8 L404.8,126.3 L405.3,125.9 L405.8,125.5 L406.3,125.0 L406.8,124.6 L407.3,124.2 L407.8,123.7 L408.3,123.3 L408.8,122.9 L409.3,122.4 L409.8,122.0 L410.3,121.6 L410.8,121.1 L411.3,120.7 L411.8,120.3 L412.3,119.8 L412.8,119.4 L413.3,118.9 L413.8,118.5 L414.3,118.1 L414.8,117.6 L415.3,117.2 L415.8,116.8 L416.3,116.3 L416.8,115.9 L417.3,115.4 L417.8,115.0 L418.3,114.6 L418.8,114.1 L419.3,113.7 L419.8,113.3 L420.3,112.8 L420.8,112.4 L421.3,112.0 L421.8,111.5 L422.3,111.1 L422.8,110.7 L423.3,110.2 L423.8,109.8 L424.3,109.4 L424.8,108.9 L425.3,108.5 L425.8,108.1 L426.3,107.6 L426.8,107.2 L427.3,106.8 L427.8,106.4 L428.3,105.9 L428.8,105.5 L429.3,105.1 L429.8,104.6 L430.3,104.2 L430.8,103.8 L431.3,103.4 L431.8,102.9 L432.3,102.5 L432.8,102.1 L433.3,101.7 L433.8,101.2 L434.3,100.8 L434.8,100.4 L435.3,99.9 L435.8,99.5 L436.3,99.1 L436.8,98.7 L437.3,98.2 L437.8,97.8 L438.3,97.4 L438.8,97.0 L439.3,96.5 L439.8,96.1 L440.3,95.7 L440.8,95.3 L441.3,94.8 L441.8,94.4 L442.3,94.0 L442.8,93.6 L443.3,93.1 L443.8,92.7 L444.3,92.3 L444.8,91.9 L445.3,91.4 L445.8,91.0 L446.3,90.6 L446.8,90.2 L447.3,89.7 L447.8,89.3 L448.3,88.9 L448.8,88.5 L449.3,88.0 L449.8,87.6 L450.3,87.2 L450.8,86.8 L451.3,86.3 L451.8,85.9 L452.3,85.5 L452.8,85.1 L453.3,84.6 L453.8,84.2 L454.3,83.8 L454.8,83.4 L455.3,82.9 L455.8,82.5 L456.3,82.1 L456.8,81.7 L457.3,81.2 L457.8,80.8 L458.3,80.4 L458.8,80.0 L459.3,79.5 L459.8,79.1 L460.3,78.7 L460.8,78.3 L461.3,77.8 L461.8,77.4 L462.3,77.0 L462.8,76.5 L463.3,76.1 L463.8,75.7 L464.3,75.3 L464.8,74.8 L465.3,74.4 L465.8,74.0 L466.3,73.6 L466.5,73.4" fill="none" stroke="#f00" stroke-width="1.65" stroke-dasharray="7 6.456"/>
<path d="M61.3,129.2 L61.8,129.2 L62.3,129.2 L62.8,129.2 L63.3,129.2 L63.8,129.2 L64.3,129.2 L64.8,129.2 L65.3,129.2 L65.8,129.2 L66.3,129.2 L66.8,129.2 L67.3,129.2 L67.8,129.2 L68.3,129.2 L68.8,129.2 L69.3,129.2 L69.8,129.2 L70.3,129.2 L70.8,129.2 L71.3,129.2 L71.8,129.2 L72.3,129.2 L72.8,129.2 L73.3,129.2 L73.8,129.2 L74.3,129.2 L74.8,129.2 L75.3,129.2 L75.8,129.2 L76.3,129.2 L76.8,129.2 L77.3,129.2 L77.8,129.2 L78.3,129.2 L78.8,129.2 L79.3,129.2 L79.8,129.2 L80.3,129.2 L80.8,129.2 L81.3,129.2 L81.8,129.2 L82.3,129.2 L82.8,129.2 L83.3,129.2 L83.8,129.2 L84.3,129.2 L84.8,129.2 L85.3,129.2 L85.8,129.2 L86.3,129.2 L86.8,129.2 L87.3,129.2 L87.8,129.2 L88.3,129.2 L88.8,129.2 L89.3,129.2 L89.8,129.2 L90.3,129.2 L90.8,129.2 L91.3,129.2 L91.8,129.2 L92.3,129.2 L92.8,129.2 L93.3,129.2 L93.8,129.2 L94.3,129.2 L94.8,129.2 L95.3,129.2 L95.8,129.2 L96.3,129.2 L96.8,129.2 L97.3,129.2 L97.8,129.2 L98.3,129.2 L98.8,129.2 L99.3,129.2 L99.8,129.2 L100.3,129.2 L100.8,129.2 L101.3,129.2 L101.8,129.2 L102.3,129.2 L102.8,129.2 L103.3,129.2 L103.8,129.2 L104.3,129.2 L104.8,129.2 L105.3,129.2 L105.8,129.2 L106.3,129.2 L106.8,129.2 L107.3,129.2 L107.8,129.2 L108.3,129.2 L108.8,129.2 L109.3,129.2 L109.8,129.2 L110.3,129.2 L110.8,129.2 L111.3,129.2 L111.8,129.2 L112.3,129.2 L112.8,129.2 L113.3,129.2 L113.8,129.2 L114.3,129.2 L114.8,129.2 L115.3,129.2 L115.8,129.2 L116.3,129.2 L116.8,129.2 L117.3,129.2 L117.8,129.2 L118.3,129.2 L118.8,129.2 L119.3,129.2 L119.8,129.2 L120.3,129.2 L120.8,129.2 L121.3,129.2 L121.8,129.2 L122.3,129.2 L122.8,129.2 L123.3,129.2 L123.8,129.2 L124.3,129.2 L124.8,129.2 L125.3,129.2 L125.8,129.2 L126.3,129.2 L126.8,129.2 L127.3,129.2 L127.8,129.2 L128.3,129.2 L128.8,129.2 L129.3,129.2 L129.8,129.2 L130.3,129.2 L130.8,129.2 L131.3,129.2 L131.8,129.2 L132.3,129.2 L132.8,129.2 L133.3,129.2 L133.8,129.2 L134.3,129.2 L134.8,129.2 L135.3,129.2 L135.8,129.2 L136.3,129.2 L136.8,129.2 L137.3,129.2 L137.8,129.2 L138.3,129.2 L138.8,129.2 L139.3,129.2 L139.8,129.2 L140.3,129.2 L140.8,129.2 L141.3,129.2 L141.8,129.2 L142.3,129.2 L142.8,129.2 L143.3,129.2 L143.8,129.2 L144.3,129.2 L144.8,129.2 L145.3,129.2 L145.8,129.2 L146.3,129.2 L146.8,129.2 L147.3,129.2 L147.8,129.2 L148.3,129.2 L148.8,129.2 L149.3,129.2 L149.8,129.2 L150.3,129.2 L150.8,129.2 L151.3,129.2 L151.8,129.2 L152.3,129.2 L152.8,129.2 L153.3,129.2 L153.8,129.2 L154.3,129.2 L154.8,129.2 L155.3,129.2 L155.8,129.2 L156.3,129.2 L156.8,129.2 L157.3,129.2 L157.8,129.2 L158.3,129.2 L158.8,129.2 L159.3,129.2 L159.8,129.2 L160.3,129.2 L160.8,129.2 L161.3,129.2 L161.8,129.2 L162.3,129.2 L162.8,129.2 L163.3,129.2 L163.8,129.2 L164.3,129.2 L164.8,129.2 L165.3,129.2 L165.8,129.2 L166.3,129.2 L166.8,129.2 L167.3,129.2 L167.8,129.2 L168.3,129.2 L168.8,129.2 L169.3,129.2 L169.8,129.2 L170.3,129.2 L170.8,129.2 L171.3,129.2 L171.8,129.2 L172.3,129.2 L172.8,129.2 L173.3,129.2 L173.8,129.2 L174.3,129.2 L174.8,129.2 L175.3,129.2 L175.8,129.2 L176.3,129.2 L176.8,129.2 L177.3,129.2 L177.8,129.2 L178.3,129.2 L178.8,129.2 L179.3,129.2 L179.8,129.2 L180.3,129.2 L180.8,129.2 L181.3,129.2 L181.8,129.2 L182.3,129.2 L182.8,129.2 L183.3,129.2 L183.8,129.2 L184.3,129.2 L184.8,129.2 L185.3,129.2 L185.8,129.2 L186.3,129.2 L186.8,129.2 L187.3,129.2 L187.8,129.2 L188.3,129.2 L188.8,129.2 L189.3,129.2 L189.8,129.2 L190.3,129.2 L190.8,129.2 L191.3,129.2 L191.8,129.2 L192.3,129.2 L192.8,129.2 L193.3,129.2 L193.8,129.2 L194.3,129.2 L194.8,129.2 L195.3,129.2 L195.8,129.2 L196.3,129.2 L196.8,129.2 L197.3,129.2 L197.8,129.2 L198.3,129.2 L198.8,129.2 L199.3,129.2 L199.8,129.2 L200.3,129.2 L200.8,129.2 L201.3,129.2 L201.8,129.2 L202.3,129.2 L202.8,129.2 L203.3,129.2 L203.8,129.2 L204.3,129.2 L204.8,129.2 L205.3,129.2 L205.8,129.2 L206.3,129.2 L206.8,129.2 L207.3,129.2 L207.8,129.2 L208.3,129.2 L208.8,129.2 L209.3,129.2 L209.8,129.2 L210.3,129.2 L210.8,129.2 L211.3,129.2 L211.8,129.2 L212.3,129.2 L212.8,129.2 L213.3,129.2 L213.8,129.2 L214.3,129.2 L214.8,129.2 L215.3,129.2 L215.8,129.2 L216.3,129.2 L216.8,129.2 L217.3,129.2 L217.8,129.2 L218.3,129.2 L218.8,129.2 L219.3,129.2 L219.8,129.2 L220.3,129.2 L220.8,129.2 L221.3,129.2 L221.8,129.2 L222.3,129.2 L222.8,129.2 L223.3,129.2 L223.8,129.2 L224.3,129.2 L224.8,129.2 L225.3,129.2 L225.8,129.2 L226.3,129.2 L226.8,129.2 L227.3,129.2 L227.8,129.2 L228.3,129.2 L228.8,129.2 L229.3,129.2 L229.8,129.2 L230.3,129.2 L230.8,129.2 L231.3,129.2 L231.8,129.2 L232.3,129.2 L232.8,129.2 L233.3,129.2 L233.8,129.2 L234.3,129.2 L234.8,129.2 L235.3,129.2 L235.8,129.2 L236.3,129.2 L236.8,129.2 L237.3,129.2 L237.8,129.2 L238.3,129.2 L238.8,129.2 L239.3,129.2 L239.8,129.2 L240.3,129.2 L240.8,129.2 L241.3,129.2 L241.8,129.2 L242.3,129.2 L242.8,129.2 L243.3,129.2 L243.8,129.2 L244.3,129.2 L244.8,129.2 L245.3,129.2 L245.8,129.2 L246.3,129.2 L246.8,129.2 L247.3,129.2 L247.8,129.2 L248.3,129.2 L248.8,129.2 L249.3,129.2 L249.8,129.2 L250.3,129.2 L250.8,129.2 L251.3,129.2 L251.8,129.2 L252.3,129.2 L252.8,129.2 L253.3,129.2 L253.8,129.2 L254.3,129.2 L254.8,129.1 L255.3,129.1 L255.8,129.1 L256.3,129.1 L256.8,129.1 L257.3,129.1 L257.8,129.1 L258.3,129.1 L258.8,129.1 L259.3,129.1 L259.8,129.1 L260.3,129.1 L260.8,129.1 L261.3,129.1 L261.8,129.1 L262.3,129.1 L262.8,129.1 L263.3,129.1 L263.8,129.1 L264.3,129.1 L264.8,129.1 L265.3,129.1 L265.8,129.1 L266.3,129.0 L266.8,129.0 L267.3,129.0 L267.8,129.0 L268.3,129.0 L268.8,129.0 L269.3,129.0 L269.8,129.0 L270.3,129.0 L270.8,129.0 L271.3,129.0 L271.8,129.0 L272.3,129.0 L272.8,129.0 L273.3,128.9 L273.8,128.9 L274.3,128.9 L274.8,128.9 L275.3,128.9 L275.8,128.9 L276.3,128.9 L276.8,128.9 L277.3,128.9 L277.8,128.8 L278.3,128.8 L278.8,128.8 L279.3,128.8 L279.8,128.8 L280.3,128.8 L280.8,128.8 L281.3,128.7 L281.8,128.7 L282.3,128.7 L282.8,128.7 L283.3,128.7 L283.8,128.7 L284.3,128.7 L284.8,128.6 L285.3,128.6 L285.8,128.6 L286.3,128.6 L286.8,128.6 L287.3,128.5 L287.8,128.5 L288.3,128.5 L288.8,128.5 L289.3,128.4 L289.8,128.4 L290.3,128.4 L290.8,128.4 L291.3,128.3 L291.8,128.3 L292.3,128.3 L292.8,128.3 L293.3,128.2 L293.8,128.2 L294.3,128.2 L294.8,128.1 L295.3,128.1 L295.8,128.1 L296.3,128.0 L296.8,128.0 L297.3,127.9 L297.8,127.9 L298.3,127.9 L298.8,127.8 L299.3,127.8 L299.8,127.7 L300.3,127.7 L300.8,127.6 L301.3,127.6 L301.8,127.5 L302.3,127.5 L302.8,127.4 L303.3,127.4 L303.8,127.3 L304.3,127.3 L304.8,127.2 L305.3,127.2 L305.8,127.1 L306.3,127.0 L306.8,127.0 L307.3,126.9 L307.8,126.8 L308.3,126.8 L308.8,126.7 L309.3,126.6 L309.8,126.6 L310.3,126.5 L310.8,126.4 L311.3,126.3 L311.8,126.2 L312.3,126.1 L312.8,126.1 L313.3,126.0 L313.8,125.9 L314.3,125.8 L314.8,125.7 L315.3,125.6 L315.8,125.5 L316.3,125.4 L316.8,125.3 L317.3,125.2 L317.8,125.1 L318.3,124.9 L318.8,124.8 L319.3,124.7 L319.8,124.6 L320.3,124.5 L320.8,124.3 L321.3,124.2 L321.8,124.1 L322.3,123.9 L322.8,123.8 L323.3,123.7 L323.8,123.5 L324.3,123.4 L324.8,123.2 L325.3,123.1 L325.8,122.9 L326.3,122.7 L326.8,122.6 L327.3,122.4 L327.8,122.2 L328.3,122.1 L328.8,121.9 L329.3,121.7 L329.8,121.5 L330.3,121.4 L330.8,121.2 L331.3,121.0 L331.8,120.8 L332.3,120.6 L332.8,120.4 L333.3,120.2 L333.8,120.0 L334.3,119.8 L334.8,119.5 L335.3,119.3 L335.8,119.1 L336.3,118.9 L336.8,118.6 L337.3,118.4 L337.8,118.2 L338.3,117.9 L338.8,117.7 L339.3,117.5 L339.8,117.2 L340.3,117.0 L340.8,116.7 L341.3,116.4 L341.8,116.2 L342.3,115.9 L342.8,115.7 L343.3,115.4 L343.8,115.1 L344.3,114.8 L344.8,114.6 L345.3,114.3 L345.8,114.0 L346.3,113.7 L346.8,113.4 L347.3,113.1 L347.8,112.8 L348.3,112.5 L348.8,112.2 L349.3,111.9 L349.8,111.6 L350.3,111.3 L350.8,111.0 L351.3,110.7 L351.8,110.4 L352.3,110.0 L352.8,109.7 L353.3,109.4 L353.8,109.1 L354.3,108.7 L354.8,108.4 L355.3,108.1 L355.8,107.7 L356.3,107.4 L356.8,107.0 L357.3,106.7 L357.8,106.4 L358.3,106.0 L358.8,105.7 L359.3,105.3 L359.8,105.0 L360.3,104.6 L360.8,104.2 L361.3,103.9 L361.8,103.5 L362.3,103.2 L362.8,102.8 L363.3,102.4 L363.8,102.1 L364.3,101.7 L364.8,101.3 L365.3,101.0 L365.8,100.6 L366.3,100.2 L366.8,99.8 L367.3,99.5 L367.8,99.1 L368.3,98.7 L368.8,98.3 L369.3,97.9 L369.8,97.6 L370.3,97.2 L370.8,96.8 L371.3,96.4 L371.8,96.0 L372.3,95.6 L372.8,95.2 L373.3,94.9 L373.8,94.5 L374.3,94.1 L374.8,93.7 L375.3,93.3 L375.8,92.9 L376.3,92.5 L376.8,92.1 L377.3,91.7 L377.8,91.3 L378.3,90.9 L378.8,90.5 L379.3,90.1 L379.8,89.7 L380.3,89.3 L380.8,88.9 L381.3,88.5 L381.8,88.1 L382.3,87.7 L382.8,87.3 L383.3,86.9 L383.8,86.5 L384.3,86.1 L384.8,85.6 L385.3,85.2 L385.8,84.8 L386.3,84.4 L386.8,84.0 L387.3,83.6 L387.8,83.2 L388.3,82.8 L388.8,82.4 L389.3,82.0 L389.8,81.5 L390.3,81.1 L390.8,80.7 L391.3,80.3 L391.8,79.9 L392.3,79.5 L392.8,79.1 L393.3,78.6 L393.8,78.2 L394.3,77.8 L394.8,77.4 L395.3,77.0 L395.8,76.6 L396.3,76.2 L396.8,75.7 L397.3,75.3 L397.8,74.9 L398.3,74.5 L398.8,74.1 L399.3,73.7 L399.8,73.2 L400.3,72.8 L400.8,72.4 L401.3,72.0 L401.8,71.6 L402.3,71.1 L402.8,70.7 L403.3,70.3 L403.8,69.9 L404.3,69.5 L404.8,69.0 L405.3,68.6 L405.8,68.2 L406.3,67.8 L406.8,67.4 L407.3,66.9 L407.8,66.5 L408.3,66.1 L408.8,65.7 L409.3,65.3 L409.8,64.8 L410.3,64.4 L410.8,64.0 L411.3,63.6 L411.8,63.1 L412.3,62.7 L412.8,62.3 L413.3,61.9 L413.8,61.5 L414.3,61.0 L414.8,60.6 L415.3,60.2 L415.8,59.8 L416.3,59.3 L416.8,58.9 L417.3,58.5 L417.8,58.1 L418.3,57.7 L418.8,57.2 L419.3,56.8 L419.8,56.4 L420.3,56.0 L420.8,55.5 L421.3,55.1 L421.8,54.7 L422.3,54.3 L422.8,53.8 L423.3,53.4 L423.8,53.0 L424.3,52.6 L424.8,52.2 L425.3,51.7 L425.8,51.3 L426.3,50.9 L426.8,50.5 L427.3,50.0 L427.8,49.6 L428.3,49.2 L428.8,48.8 L429.3,48.3 L429.8,47.9 L430.3,47.5 L430.8,47.1 L431.3,46.6 L431.8,46.2 L432.3,45.8 L432.8,45.4 L433.3,44.9 L433.8,44.5 L434.3,44.1 L434.8,43.7 L435.3,43.2 L435.8,42.8 L436.3,42.4 L436.8,42.0 L437.3,41.6 L437.8,41.1 L438.3,40.7 L438.8,40.3 L439.3,39.9 L439.8,39.4 L440.3,39.0 L440.8,38.6 L441.3,38.2 L441.8,37.7 L442.3,37.3 L442.8,36.9 L443.3,36.5 L443.8,36.0 L444.3,35.6 L444.8,35.2 L445.3,34.8 L445.8,34.3 L446.3,33.9 L446.8,33.5 L447.3,33.1 L447.8,32.6 L448.3,32.2 L448.8,31.8 L449.3,31.4 L449.8,30.9 L450.3,30.5 L450.8,30.1 L451.3,29.7 L451.8,29.2 L452.3,28.8 L452.8,28.4 L453.3,28.0 L453.8,27.5 L454.3,27.1 L454.8,26.7 L455.3,26.3 L455.8,25.8 L456.3,25.4 L456.8,25.0 L457.3,24.6 L457.8,24.1 L458.3,23.7 L458.8,23.3 L459.3,22.9 L459.8,22.4 L460.3,22.0 L460.8,21.6 L461.3,21.2 L461.8,20.7 L462.3,20.3 L462.8,19.9 L463.3,19.5 L463.8,19.0 L464.3,18.6 L464.8,18.2 L465.3,17.8" fill="none" stroke="#00f" stroke-width="1.65" stroke-dasharray="7 6.466"/>
<path d="M61.3,184.7 L61.8,184.7 L62.3,184.7 L62.8,184.7 L63.3,184.7 L63.8,184.7 L64.3,184.7 L64.8,184.7 L65.3,184.7 L65.8,184.7 L66.3,184.7 L66.8,184.7 L67.3,184.7 L67.8,184.7 L68.3,184.7 L68.8,184.7 L69.3,184.7 L69.8,184.7 L70.3,184.7 L70.8,184.7 L71.3,184.7 L71.8,184.7 L72.3,184.7 L72.8,184.7 L73.3,184.7 L73.8,184.7 L74.3,184.7 L74.8,184.7 L75.3,184.7 L75.8,184.7 L76.3,184.7 L76.8,184.7 L77.3,184.7 L77.8,184.7 L78.3,184.7 L78.8,184.7 L79.3,184.7 L79.8,184.7 L80.3,184.7 L80.8,184.7 L81.3,184.7 L81.8,184.7 L82.3,184.7 L82.8,184.7 L83.3,184.7 L83.8,184.7 L84.3,184.7 L84.8,184.7 L85.3,184.7 L85.8,184.7 L86.3,184.7 L86.8,184.7 L87.3,184.7 L87.8,184.7 L88.3,184.7 L88.8,184.7 L89.3,184.7 L89.8,184.7 L90.3,184.7 L90.8,184.7 L91.3,184.7 L91.8,184.7 L92.3,184.7 L92.8,184.7 L93.3,184.7 L93.8,184.7 L94.3,184.7 L94.8,184.7 L95.3,184.7 L95.8,184.7 L96.3,184.7 L96.8,184.7 L97.3,184.7 L97.8,184.7 L98.3,184.7 L98.8,184.7 L99.3,184.7 L99.8,184.7 L100.3,184.7 L100.8,184.7 L101.3,184.7 L101.8,184.7 L102.3,184.7 L102.8,184.7 L103.3,184.7 L103.8,184.7 L104.3,184.7 L104.8,184.7 L105.3,184.7 L105.8,184.7 L106.3,184.7 L106.8,184.7 L107.3,184.7 L107.8,184.7 L108.3,184.7 L108.8,184.7 L109.3,184.7 L109.8,184.7 L110.3,184.7 L110.8,184.7 L111.3,184.7 L111.8,184.7 L112.3,184.7 L112.8,184.7 L113.3,184.7 L113.8,184.7 L114.3,184.7 L114.8,184.7 L115.3,184.7 L115.8,184.7 L116.3,184.7 L116.8,184.7 L117.3,184.7 L117.8,184.7 L118.3,184.7 L118.8,184.7 L119.3,184.7 L119.8,184.7 L120.3,184.7 L120.8,184.7 L121.3,184.7 L121.8,184.7 L122.3,184.7 L122.8,184.7 L123.3,184.7 L123.8,184.7 L124.3,184.7 L124.8,184.7 L125.3,184.7 L125.8,184.7 L126.3,184.7 L126.8,184.7 L127.3,184.7 L127.8,184.7 L128.3,184.7 L128.8,184.7 L129.3,184.7 L129.8,184.7 L130.3,184.7 L130.8,184.7 L131.3,184.7 L131.8,184.7 L132.3,184.7 L132.8,184.7 L133.3,184.7 L133.8,184.7 L134.3,184.7 L134.8,184.7 L135.3,184.7 L135.8,184.7 L136.3,184.7 L136.8,184.7 L137.3,184.7 L137.8,184.7 L138.3,184.7 L138.8,184.7 L139.3,184.7 L139.8,184.7 L140.3,184.7 L140.8,184.7 L141.3,184.7 L141.8,184.7 L142.3,184.7 L142.8,184.7 L143.3,184.7 L143.8,184.7 L144.3,184.7 L144.8,184.7 L145.3,184.7 L145.8,184.7 L146.3,184.7 L146.8,184.7 L147.3,184.7 L147.8,184.7 L148.3,184.7 L148.8,184.7 L149.3,184.7 L149.8,184.7 L150.3,184.7 L150.8,184.7 L151.3,184.7 L151.8,184.7 L152.3,184.7 L152.8,184.7 L153.3,184.7 L153.8,184.7 L154.3,184.7 L154.8,184.7 L155.3,184.7 L155.8,184.7 L156.3,184.7 L156.8,184.7 L157.3,184.7 L157.8,184.7 L158.3,184.7 L158.8,184.7 L159.3,184.7 L159.8,184.7 L160.3,184.7 L160.8,184.7 L161.3,184.7 L161.8,184.7 L162.3,184.7 L162.8,184.7 L163.3,184.7 L163.8,184.7 L164.3,184.7 L164.8,184.7 L165.3,184.7 L165.8,184.7 L166.3,184.7 L166.8,184.7 L167.3,184.7 L167.8,184.7 L168.3,184.7 L168.8,184.7 L169.3,184.7 L169.8,184.7 L170.3,184.7 L170.8,184.7 L171.3,184.7 L171.8,184.7 L172.3,184.7 L172.8,184.7 L173.3,184.7 L173.8,184.7 L174.3,184.7 L174.8,184.7 L175.3,184.7 L175.8,184.7 L176.3,184.7 L176.8,184.7 L177.3,184.7 L177.8,184.7 L178.3,184.7 L178.8,184.7 L179.3,184.7 L179.8,184.7 L180.3,184.7 L180.8,184.7 L181.3,184.7 L181.8,184.7 L182.3,184.7 L182.8,184.7 L183.3,184.7 L183.8,184.7 L184.3,184.7 L184.8,184.7 L185.3,184.7 L185.8,184.7 L186.3,184.7 L186.8,184.7 L187.3,184.7 L187.8,184.7 L188.3,184.7 L188.8,184.7 L189.3,184.7 L189.8,184.7 L190.3,184.7 L190.8,184.7 L191.3,184.7 L191.8,184.7 L192.3,184.7 L192.8,184.7 L193.3,184.7 L193.8,184.7 L194.3,184.7 L194.8,184.7 L195.3,184.7 L195.8,184.7 L196.3,184.7 L196.8,184.7 L197.3,184.7 L197.8,184.7 L198.3,184.7 L198.8,184.7 L199.3,184.7 L199.8,184.7 L200.3,184.7 L200.8,184.7 L201.3,184.7 L201.8,184.7 L202.3,184.7 L202.8,184.7 L203.3,184.7 L203.8,184.7 L204.3,184.7 L204.8,184.7 L205.3,184.7 L205.8,184.7 L206.3,184.7 L206.8,184.7 L207.3,184.7 L207.8,184.7 L208.3,184.7 L208.8,184.7 L209.3,184.7 L209.8,184.7 L210.3,184.7 L210.8,184.7 L211.3,184.7 L211.8,184.7 L212.3,184.7 L212.8,184.7 L213.3,184.7 L213.8,184.7 L214.3,184.7 L214.8,184.7 L215.3,184.7 L215.8,184.7 L216.3,184.7 L216.8,184.7 L217.3,184.7 L217.8,184.7 L218.3,184.7 L218.8,184.7 L219.3,184.7 L219.8,184.7 L220.3,184.7 L220.8,184.7 L221.3,184.7 L221.8,184.7 L222.3,184.7 L222.8,184.7 L223.3,184.7 L223.8,184.7 L224.3,184.7 L224.8,184.7 L225.3,184.7 L225.8,184.7 L226.3,184.7 L226.8,184.7 L227.3,184.7 L227.8,184.7 L228.3,184.7 L228.8,184.7 L229.3,184.7 L229.8,184.7 L230.3,184.7 L230.8,184.7 L231.3,184.7 L231.8,184.7 L232.3,184.7 L232.8,184.7 L233.3,184.7 L233.8,184.7 L234.3,184.7 L234.8,184.7 L235.3,184.7 L235.8,184.7 L236.3,184.7 L236.8,184.7 L237.3,184.7 L237.8,184.6 L238.3,184.6 L238.8,184.6 L239.3,184.6 L239.8,184.6 L240.3,184.6 L240.8,184.6 L241.3,184.6 L241.8,184.6 L242.3,184.6 L242.8,184.6 L243.3,184.6 L243.8,184.6 L244.3,184.6 L244.8,184.6 L245.3,184.6 L245.8,184.6 L246.3,184.6 L246.8,184.6 L247.3,184.6 L247.8,184.6 L248.3,184.6 L248.8,184.6 L249.3,184.6 L249.8,184.6 L250.3,184.6 L250.8,184.6 L251.3,184.6 L251.8,184.6 L252.3,184.6 L252.8,184.6 L253.3,184.5 L253.8,184.5 L254.3,184.5 L254.8,184.5 L255.3,184.5 L255.8,184.5 L256.3,184.5 L256.8,184.5 L257.3,184.5 L257.8,184.5 L258.3,184.5 L258.8,184.5 L259.3,184.5 L259.8,184.5 L260.3,184.5 L260.8,184.5 L261.3,184.5 L261.8,184.5 L262.3,184.5 L262.8,184.5 L263.3,184.5 L263.8,184.5 L264.3,184.5 L264.8,184.5 L265.3,184.4 L265.8,184.4 L266.3,184.4 L266.8,184.4 L267.3,184.4 L267.8,184.4 L268.3,184.4 L268.8,184.4 L269.3,184.4 L269.8,184.4 L270.3,184.4 L270.8,184.4 L271.3,184.4 L271.8,184.4 L272.3,184.4 L272.8,184.4 L273.3,184.4 L273.8,184.4 L274.3,184.4 L274.8,184.4 L275.3,184.4 L275.8,184.4 L276.3,184.4 L276.8,184.4 L277.3,184.3 L277.8,184.3 L278.3,184.3 L278.8,184.3 L279.3,184.3 L279.8,184.3 L280.3,184.3 L280.8,184.3 L281.3,184.3 L281.8,184.3 L282.3,184.3 L282.8,184.3 L283.3,184.3 L283.8,184.3 L284.3,184.3 L284.8,184.3 L285.3,184.2 L285.8,184.2 L286.3,184.2 L286.8,184.2 L287.3,184.2 L287.8,184.2 L288.3,184.2 L288.8,184.2 L289.3,184.2 L289.8,184.1 L290.3,184.1 L290.8,184.1 L291.3,184.1 L291.8,184.0 L292.3,184.0 L292.8,184.0 L293.3,183.9 L293.8,183.9 L294.3,183.9 L294.8,183.8 L295.3,183.8 L295.8,183.8 L296.3,183.7 L296.8,183.7 L297.3,183.7 L297.8,183.7 L298.3,183.6 L298.8,183.6 L299.3,183.6 L299.8,183.6 L300.3,183.5 L300.8,183.5 L301.3,183.5 L301.8,183.4 L302.3,183.4 L302.8,183.4 L303.3,183.4 L303.8,183.3 L304.3,183.3 L304.8,183.3 L305.3,183.2 L305.8,183.2 L306.3,183.2 L306.8,183.1 L307.3,183.1 L307.8,183.0 L308.3,183.0 L308.8,182.9 L309.3,182.8 L309.8,182.8 L310.3,182.7 L310.8,182.6 L311.3,182.5 L311.8,182.5 L312.3,182.4 L312.8,182.3 L313.3,182.2 L313.8,182.1 L314.3,182.0 L314.8,181.9 L315.3,181.8 L315.8,181.7 L316.3,181.6 L316.8,181.5 L317.3,181.4 L317.8,181.3 L318.3,181.2 L318.8,181.1 L319.3,181.0 L319.8,180.8 L320.3,180.7 L320.8,180.6 L321.3,180.5 L321.8,180.4 L322.3,180.2 L322.8,180.1 L323.3,179.9 L323.8,179.8 L324.3,179.7 L324.8,179.5 L325.3,179.3 L325.8,179.2 L326.3,179.0 L326.8,178.9 L327.3,178.7 L327.8,178.6 L328.3,178.4 L328.8,178.2 L329.3,178.1 L329.8,177.9 L330.3,177.8 L330.8,177.6 L331.3,177.5 L331.8,177.3 L332.3,177.1 L332.8,177.0 L333.3,176.8 L333.8,176.6 L334.3,176.5 L334.8,176.3 L335.3,176.1 L335.8,175.9 L336.3,175.7 L336.8,175.6 L337.3,175.4 L337.8,175.2 L338.3,175.0 L338.8,174.8 L339.3,174.6 L339.8,174.4 L340.3,174.2 L340.8,174.0 L341.3,173.7 L341.8,173.5 L342.3,173.3 L342.8,173.0 L343.3,172.8 L343.8,172.5 L344.3,172.3 L344.8,172.0 L345.3,171.7 L345.8,171.5 L346.3,171.2 L346.8,170.9 L347.3,170.6 L347.8,170.3 L348.3,170.0 L348.8,169.7 L349.3,169.4 L349.8,169.1 L350.3,168.8 L350.8,168.5 L351.3,168.1 L351.8,167.8 L352.3,167.5 L352.8,167.1 L353.3,166.8 L353.8,166.4 L354.3,166.0 L354.8,165.7 L355.3,165.3 L355.8,165.0 L356.3,164.6 L356.8,164.2 L357.3,163.9 L357.8,163.5 L358.3,163.1 L358.8,162.8 L359.3,162.4 L359.8,162.1 L360.3,161.7 L360.8,161.3 L361.3,161.0 L361.8,160.6 L362.3,160.2 L362.8,159.9 L363.3,159.5 L363.8,159.1 L364.3,158.7 L364.8,158.4 L365.3,158.0 L365.8,157.6 L366.3,157.2 L366.8,156.9 L367.3,156.5 L367.8,156.1 L368.3,155.7 L368.8,155.3 L369.3,154.9 L369.8,154.5 L370.3,154.1 L370.8,153.8 L371.3,153.4 L371.8,153.0 L372.3,152.6 L372.8,152.1 L373.3,151.7 L373.8,151.3 L374.3,150.9 L374.8,150.5 L375.3,150.1 L375.8,149.7 L376.3,149.3 L376.8,148.9 L377.3,148.5 L377.8,148.1 L378.3,147.7 L378.8,147.3 L379.3,146.9 L379.8,146.5 L380.3,146.1 L380.8,145.7 L381.3,145.3 L381.8,144.9 L382.3,144.5 L382.8,144.1 L383.3,143.7 L383.8,143.3 L384.3,143.0 L384.8,142.6 L385.3,142.2 L385.8,141.8 L386.3,141.4 L386.8,141.0 L387.3,140.6 L387.8,140.2 L388.3,139.8 L388.8,139.4 L389.3,139.0 L389.8,138.6 L390.3,138.2 L390.8,137.8 L391.3,137.5 L391.8,137.1 L392.3,136.7 L392.8,136.3 L393.3,135.9 L393.8,135.5 L394.3,135.1 L394.8,134.7 L395.3,134.3 L395.8,133.8 L396.3,133.4 L396.8,133.0 L397.3,132.6 L397.8,132.2 L398.3,131.8 L398.8,131.4 L399.3,131.0 L399.8,130.6 L400.3,130.1 L400.8,129.7 L401.3,129.3 L401.8,128.9 L402.3,128.5 L402.8,128.0 L403.3,127.6 L403.8,127.2 L404.3,126.8 L404.8,126.3 L405.3,125.9 L405.8,125.5 L406.3,125.0 L406.8,124.6 L407.3,124.2 L407.8,123.7 L408.3,123.3 L408.8,122.9 L409.3,122.4 L409.8,122.0 L410.3,121.6 L410.8,121.1 L411.3,120.7 L411.8,120.3 L412.3,119.8 L412.8,119.4 L413.3,118.9 L413.8,118.5 L414.3,118.1 L414.8,117.6 L415.3,117.2 L415.8,116.8 L416.3,116.3 L416.8,115.9 L417.3,115.4 L417.8,115.0 L418.3,114.6 L418.8,114.1 L419.3,113.7 L419.8,113.3 L420.3,112.8 L420.8,112.4 L421.3,112.0 L421.8,111.5 L422.3,111.1 L422.8,110.7 L423.3,110.2 L423.8,109.8 L424.3,109.4 L424.8,108.9 L425.3,108.5 L425.8,108.1 L426.3,107.6 L426.8,107.2 L427.3,106.8 L427.8,106.4 L428.3,105.9 L428.8,105.5 L429.3,105.1 L429.8,104.6 L430.3,104.2 L430.8,103.8 L431.3,103.4 L431.8,102.9 L432.3,102.5 L432.8,102.1 L433.3,101.7 L433.8,101.2 L434.3,100.8 L434.8,100.4 L435.3,99.9 L435.8,99.5 L436.3,99.1 L436.8,98.7 L437.3,98.2 L437.8,97.8 L438.3,97.4 L438.8,97.0 L439.3,96.5 L439.8,96.1 L440.3,95.7 L440.8,95.3 L441.3,94.8 L441.8,94.4 L442.3,94.0 L442.8,93.6 L443.3,93.1 L443.8,92.7 L444.3,92.3 L444.8,91.9 L445.3,91.4 L445.8,91.0 L446.3,90.6 L446.8,90.2 L447.3,89.7 L447.8,89.3 L448.3,88.9 L448.8,88.5 L449.3,88.0 L449.8,87.6 L450.3,87.2 L450.8,86.8 L451.3,86.3 L451.8,85.9 L452.3,85.5 L452.8,85.1 L453.3,84.6 L453.8,84.2 L454.3,83.8 L454.8,83.4 L455.3,82.9 L455.8,82.5 L456.3,82.1 L456.8,81.7 L457.3,81.2 L457.8,80.8 L458.3,80.4 L458.8,80.0 L459.3,79.5 L459.8,79.1 L460.3,78.7 L460.8,78.3 L461.3,77.8 L461.8,77.4 L462.3,77.0 L462.8,76.5 L463.3,76.1 L463.8,75.7 L464.3,75.3 L464.8,74.8 L465.3,74.4 L465.8,74.0 L466.3,73.6 L466.5,73.4" fill="none" stroke="#00f" stroke-width="1.65" stroke-dasharray="7 6.401"/>
<!-- GERDA -->
<rect x="61.3" y="48.7" width="405.2" height="11.7" fill="#800080" fill-opacity="0.2"/>
<path d="M61.3,50.0 H466.5" stroke="#800080" stroke-width="1.6" stroke-dasharray="3.3 1.3" fill="none"/>
<path d="M61.3,54.6 H466.5" stroke="#800080" stroke-width="1.8" stroke-dasharray="3.3 1.3" fill="none"/>
<path d="M61.3,55.9 H466.5" stroke="#800080" stroke-width="1.4" stroke-dasharray="1.2 1.1" fill="none"/>
<path d="M61.3,60.4 H466.5" stroke="#800080" stroke-width="1.4" stroke-dasharray="3.3 1.3 1 1.3" fill="none"/>
<path d="M61.3,47.2 H466.5" stroke="#ff8000" stroke-width="1.4" stroke-dasharray="3.3 1.3" fill="none"/>
<path d="M61.3,60.6 H466.5" stroke="#ff8000" stroke-width="1.4" stroke-dasharray="3.3 1.3" fill="none"/>
<path d="M61.3,82.3 H466.5" stroke="#b87333" stroke-width="1.7" fill="none"/>
<path d="M61.3,132.4 H466.5" stroke="#000" stroke-width="1.3" fill="none"/>
<path d="M348.5,17.5 V268.5" stroke="#000" stroke-width="1.5" stroke-dasharray="3.3 1.4" fill="none"/>
<path d="M379.4,17.5 V268.5" stroke="#000" stroke-width="1.3" fill="none"/>
<path d="M398.1,17.5 V268.5" stroke="#000" stroke-width="1.5" stroke-dasharray="3 1.7 1.3 1.7" fill="none"/>
<!-- frame -->
<rect x="61.3" y="17.5" width="405.2" height="251.0" fill="none" stroke="#999" stroke-width="0.55"/>
<path d="M135.20,268.5 v-2.8 M135.20,17.5 v2.8 M209.00,268.5 v-2.8 M209.00,17.5 v2.8 M282.80,268.5 v-2.8 M282.80,17.5 v2.8 M356.60,268.5 v-2.8 M356.60,17.5 v2.8 M430.40,268.5 v-2.8 M430.40,17.5 v2.8 M61.3,205.75 h2.8 M466.5,205.75 h-2.8 M61.3,143.00 h2.8 M466.5,143.00 h-2.8 M61.3,80.25 h2.8 M466.5,80.25 h-2.8" stroke="#777" stroke-width="0.6" fill="none"/>
<path d="M83.62,268.5 v-1.9 M83.62,17.5 v1.9 M96.61,268.5 v-1.9 M96.61,17.5 v1.9 M105.83,268.5 v-1.9 M105.83,17.5 v1.9 M112.98,268.5 v-1.9 M112.98,17.5 v1.9 M118.83,268.5 v-1.9 M118.83,17.5 v1.9 M123.77,268.5 v-1.9 M123.77,17.5 v1.9 M128.05,268.5 v-1.9 M128.05,17.5 v1.9 M131.82,268.5 v-1.9 M131.82,17.5 v1.9 M157.42,268.5 v-1.9 M157.42,17.5 v1.9 M170.41,268.5 v-1.9 M170.41,17.5 v1.9 M179.63,268.5 v-1.9 M179.63,17.5 v1.9 M186.78,268.5 v-1.9 M186.78,17.5 v1.9 M192.63,268.5 v-1.9 M192.63,17.5 v1.9 M197.57,268.5 v-1.9 M197.57,17.5 v1.9 M201.85,268.5 v-1.9 M201.85,17.5 v1.9 M205.62,268.5 v-1.9 M205.62,17.5 v1.9 M231.22,268.5 v-1.9 M231.22,17.5 v1.9 M244.21,268.5 v-1.9 M244.21,17.5 v1.9 M253.43,268.5 v-1.9 M253.43,17.5 v1.9 M260.58,268.5 v-1.9 M260.58,17.5 v1.9 M266.43,268.5 v-1.9 M266.43,17.5 v1.9 M271.37,268.5 v-1.9 M271.37,17.5 v1.9 M275.65,268.5 v-1.9 M275.65,17.5 v1.9 M279.42,268.5 v-1.9 M279.42,17.5 v1.9 M305.02,268.5 v-1.9 M305.02,17.5 v1.9 M318.01,268.5 v-1.9 M318.01,17.5 v1.9 M327.23,268.5 v-1.9 M327.23,17.5 v1.9 M334.38,268.5 v-1.9 M334.38,17.5 v1.9 M340.23,268.5 v-1.9 M340.23,17.5 v1.9 M345.17,268.5 v-1.9 M345.17,17.5 v1.9 M349.45,268.5 v-1.9 M349.45,17.5 v1.9 M353.22,268.5 v-1.9 M353.22,17.5 v1.9 M378.82,268.5 v-1.9 M378.82,17.5 v1.9 M391.81,268.5 v-1.9 M391.81,17.5 v1.9 M401.03,268.5 v-1.9 M401.03,17.5 v1.9 M408.18,268.5 v-1.9 M408.18,17.5 v1.9 M414.03,268.5 v-1.9 M414.03,17.5 v1.9 M418.97,268.5 v-1.9 M418.97,17.5 v1.9 M423.25,268.5 v-1.9 M423.25,17.5 v1.9 M427.02,268.5 v-1.9 M427.02,17.5 v1.9 M61.3,249.61 h1.9 M466.5,249.61 h-1.9 M61.3,238.56 h1.9 M466.5,238.56 h-1.9 M61.3,230.72 h1.9 M466.5,230.72 h-1.9 M61.3,224.64 h1.9 M466.5,224.64 h-1.9 M61.3,219.67 h1.9 M466.5,219.67 h-1.9 M61.3,215.47 h1.9 M466.5,215.47 h-1.9 M61.3,211.83 h1.9 M466.5,211.83 h-1.9 M61.3,208.62 h1.9 M466.5,208.62 h-1.9 M61.3,186.86 h1.9 M466.5,186.86 h-1.9 M61.3,175.81 h1.9 M466.5,175.81 h-1.9 M61.3,167.97 h1.9 M466.5,167.97 h-1.9 M61.3,161.89 h1.9 M466.5,161.89 h-1.9 M61.3,156.92 h1.9 M466.5,156.92 h-1.9 M61.3,152.72 h1.9 M466.5,152.72 h-1.9 M61.3,149.08 h1.9 M466.5,149.08 h-1.9 M61.3,145.87 h1.9 M466.5,145.87 h-1.9 M61.3,124.11 h1.9 M466.5,124.11 h-1.9 M61.3,113.06 h1.9 M466.5,113.06 h-1.9 M61.3,105.22 h1.9 M466.5,105.22 h-1.9 M61.3,99.14 h1.9 M466.5,99.14 h-1.9 M61.3,94.17 h1.9 M466.5,94.17 h-1.9 M61.3,89.97 h1.9 M466.5,89.97 h-1.9 M61.3,86.33 h1.9 M466.5,86.33 h-1.9 M61.3,83.12 h1.9 M466.5,83.12 h-1.9 M61.3,61.36 h1.9 M466.5,61.36 h-1.9 M61.3,50.31 h1.9 M466.5,50.31 h-1.9 M61.3,42.47 h1.9 M466.5,42.47 h-1.9 M61.3,36.39 h1.9 M466.5,36.39 h-1.9 M61.3,31.42 h1.9 M466.5,31.42 h-1.9 M61.3,27.22 h1.9 M466.5,27.22 h-1.9 M61.3,23.58 h1.9 M466.5,23.58 h-1.9 M61.3,20.37 h1.9 M466.5,20.37 h-1.9" stroke="#111" stroke-width="0.7" fill="none"/>
<!-- labels -->
<g>
<g fill="#000" font-size="10px">
<text x="208.8" y="41" textLength="49.6" lengthAdjust="spacingAndGlyphs">GERDA 90%</text>
<text x="179.5" y="73" textLength="108.6" lengthAdjust="spacingAndGlyphs">GERDA+HDM+IGEX 90%</text>
<text x="129.8" y="157.8" font-size="10.5px">IH</text>
<text x="127.9" y="219.5" font-size="10.5px">NH</text>
<text x="406.6" y="104.5" font-size="10.5px">QD</text>
</g>
<g fill="#000" font-size="9.5px">
<text x="189.8" y="99" font-style="italic">T</text>
<text x="196.6" y="94" font-size="6.8px" stroke="#000" stroke-width="0.2">0</text><text x="202.8" y="94" font-size="7.6px" font-style="italic" stroke="#000" stroke-width="0.2">ν</text>
<text x="195.4" y="102.6" font-size="6.8px" stroke="#000" stroke-width="0.2" textLength="10.5" lengthAdjust="spacing">1/ 2</text>
<text x="207.8" y="99" textLength="31.2" lengthAdjust="spacing">=1.5x10</text>
<text x="240" y="95.2" font-size="6.8px" stroke="#000" stroke-width="0.2">26</text>
<text x="250.8" y="99">yr</text>
<text x="193.6" y="148" font-style="italic">T</text>
<text x="200.7" y="143.3" font-size="6.8px" stroke="#000" stroke-width="0.2">0</text><text x="206.9" y="143.3" font-size="7.6px" font-style="italic" stroke="#000" stroke-width="0.2">ν</text>
<text x="199.3" y="151.4" font-size="6.8px" stroke="#000" stroke-width="0.2" textLength="10.8" lengthAdjust="spacing">1/ 2</text>
<text x="211.8" y="148" textLength="24.2" lengthAdjust="spacing">=6x10</text>
<text x="236.6" y="144" font-size="6.8px" stroke="#000" stroke-width="0.2" textLength="7.2" lengthAdjust="spacing">27</text>
<text x="249.1" y="148">yr</text>
</g>
<g fill="#000" font-size="8.6px">
<text transform="translate(357.5,246.9) rotate(-90)" textLength="27.8" lengthAdjust="spacingAndGlyphs">Planck1</text>
<text transform="translate(389.2,246.9) rotate(-90)" textLength="29" lengthAdjust="spacingAndGlyphs">KATRIN</text>
<text transform="translate(408.1,247.4) rotate(-90)" textLength="29.6" lengthAdjust="spacingAndGlyphs">Planck2</text>
</g>
<g fill="#000" font-size="15px" text-anchor="end">
<text x="59" y="22.8">1</text>
<text x="59" y="86">0.1</text>
<text x="59" y="148.4">0.01</text>
<text x="59" y="211.2">0.001</text>
</g>
<g fill="#000" font-size="14.5px">
<text x="31.6" y="274.7">10</text><text x="47.3" y="268" font-size="9.5px" textLength="11" lengthAdjust="spacing">−4</text>
<text x="48.2" y="284.9">10</text><text x="63.6" y="278.5" font-size="9.5px" textLength="11" lengthAdjust="spacing">−5</text>
<text x="122" y="284.9">10</text><text x="137.4" y="278.5" font-size="9.5px" textLength="11" lengthAdjust="spacing">−4</text>
</g>
<g fill="#000" font-size="15px" text-anchor="middle">
<text x="208.8" y="283.6">0.001</text>
<text x="282.6" y="283.6">0.01</text>
<text x="356.4" y="283.6">0.1</text>
<text x="430.4" y="283.6">1</text>
</g>
<g fill="#000" font-size="14px">
<text x="222.6" y="305.7" font-style="italic">m</text>
<text x="237.5" y="308.3" font-size="9.5px" letter-spacing="0.67">lightest</text>
<text x="275.4" y="305.7" font-size="13.5px" letter-spacing="1.4">(eV)</text>
</g>
<g transform="translate(19,176) rotate(-90)" fill="#000" font-size="14px">
<text x="-0.9" y="-2.6">|</text>
<text x="3.6" y="0" font-style="italic">m</text>
<text x="15.7" y="1.7" font-size="10.5px" letter-spacing="0.9">ee</text>
<text x="16.7" y="-9.4" font-size="10.5px" letter-spacing="0.4">eff</text>
<text x="31.2" y="-2.6">|</text>
<text x="37.4" y="0" font-size="13.5px" letter-spacing="1.6">(eV)</text>
</g>
</g>
</svg>
</body></html>
